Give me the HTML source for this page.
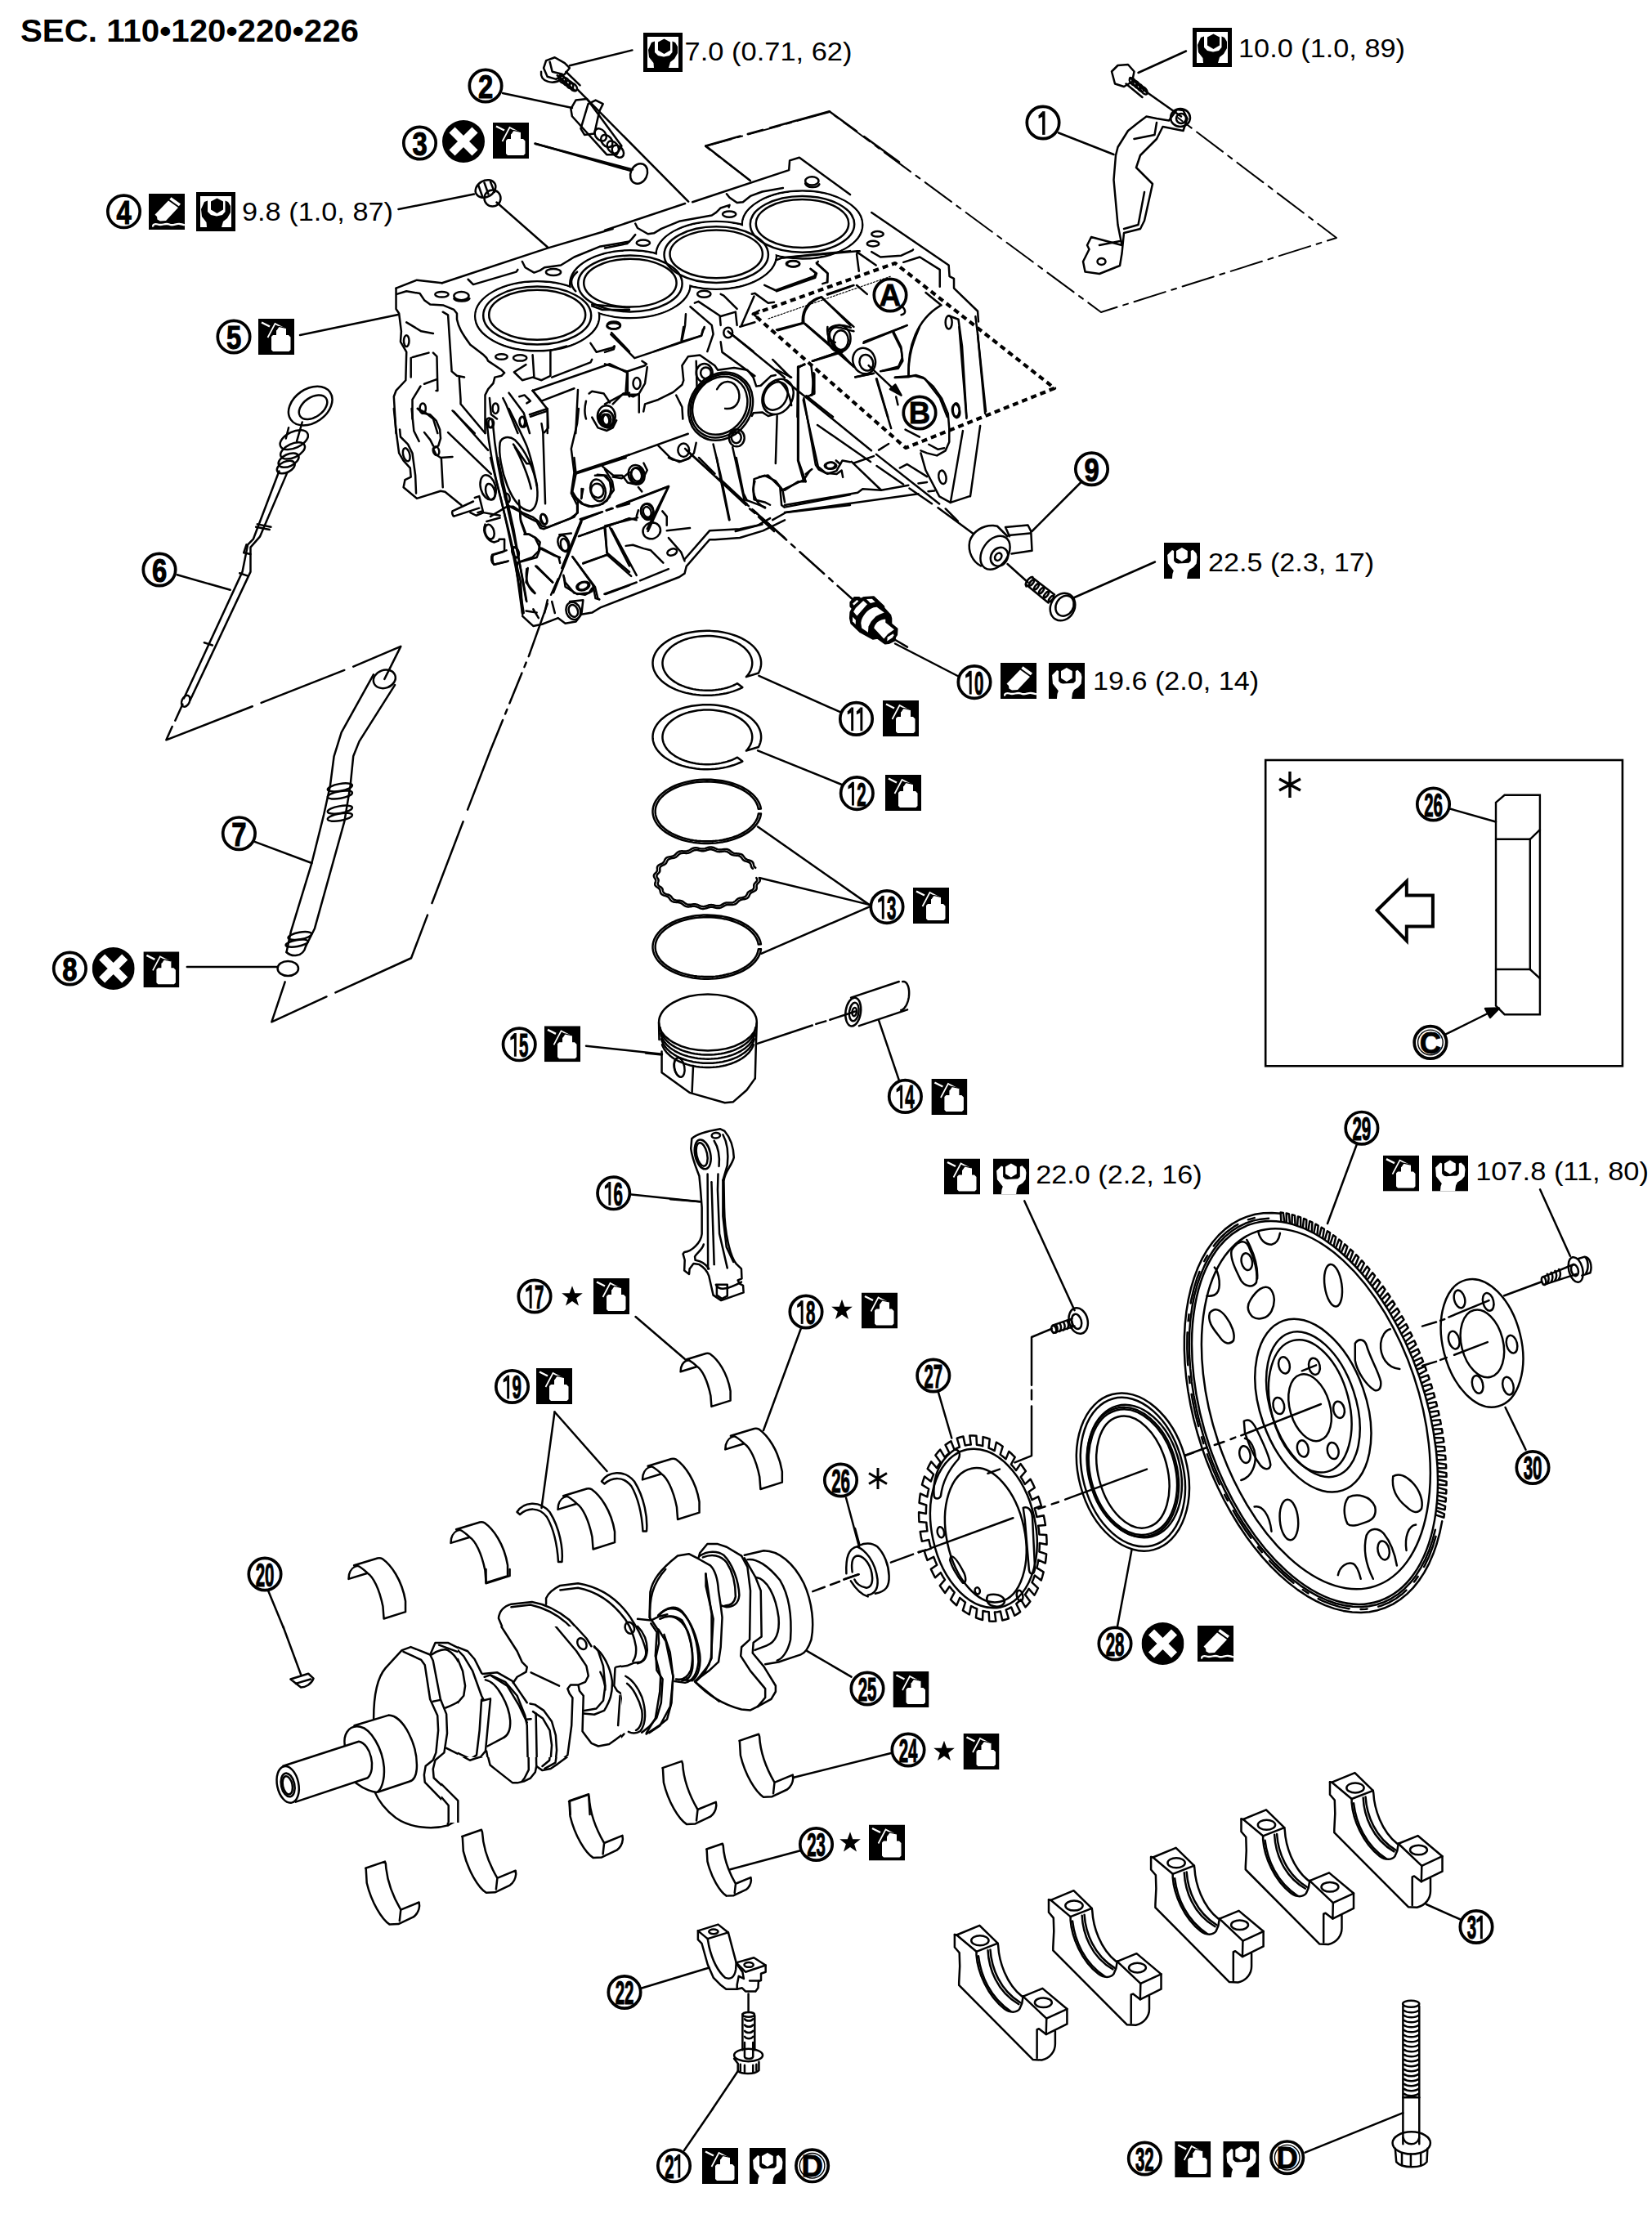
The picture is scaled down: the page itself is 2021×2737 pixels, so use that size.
<!DOCTYPE html>
<html><head><meta charset="utf-8"><style>
html,body{margin:0;padding:0;background:#fff;}
svg{display:block;}
.t *{vector-effect:non-scaling-stroke;}
</style></head><body>
<svg xmlns="http://www.w3.org/2000/svg" width="2021" height="2737" viewBox="0 0 2021 2737">
<defs>
<symbol id="oil" viewBox="0 0 44 44">
 <rect width="44" height="44" fill="#000"/>
 <path d="M16 22 L18 20 L22 20 L22 14 L25.5 9.5 L34 11.5 L34 20 L37 20 L39.5 22.5 L39.5 38 L37.5 40 L18 40 L16 38 Z" fill="#fff"/>
 <path d="M11.5 23 L20.5 6 L32 12" fill="none" stroke="#fff" stroke-width="1.7"/>
 <path d="M4 4.5 L14 9.5" fill="none" stroke="#fff" stroke-width="2.5"/>
 <path d="M22 14 L25 9.5 L34 11.5" fill="none" stroke="#000" stroke-width="1.2"/>
</symbol>
<symbol id="tqA" viewBox="0 0 48 48">
 <rect width="48" height="48" fill="#000"/>
 <rect x="5" y="5" width="38" height="38" fill="#fff"/>
 <path d="M10 12 L14 10.5 L14 24 L18 28 L25 29.5 L32 28 L35.5 24 L35.5 10.5 L39 12 L42 17 L42 25 L38 32 L33 36 L31 43 L13 43 L12.5 37 L7 30 L6 21 Z" fill="#000"/>
 <path d="M25.5 7.5 L33 11.5 L33 21.5 L25.5 26 L18 21.5 L18 11.5 Z" fill="#000"/>
</symbol>
<symbol id="tqB" viewBox="0 0 44 44">
 <rect width="44" height="44" fill="#000"/>
 <path d="M10 9 L12.1 9.9 L12.1 22.3 L14.5 24.8 L17.2 25.6 L30.3 24.8 L32.8 22.3 L32.8 10 L35.4 8.8 L39.5 13 L40.5 17.2 L39.7 25.6 L36 30 L31 33 L29 37 L28.1 44 L9.9 44 L10.5 38 L11.8 34.3 L4.9 25.6 L4.1 15 Z" fill="#fff"/>
 <path d="M21.9 6 L28.8 10 L28.8 18.7 L21.9 23 L15 18.7 L15 10 Z" fill="#fff"/>
</symbol>
<symbol id="seal" viewBox="0 0 44 44">
 <rect width="44" height="44" fill="#000"/>
 <path d="M24 8.5 L36 17 L21 33 L14 33.5 L10.5 31.5 L10 28 L7.5 25.5 L11 22 Z" fill="#fff"/>
 <path d="M27.5 4.3 L39 12.5 L36.8 15.3 L25.3 7 Z" fill="#fff"/>
 <path d="M5.5 40.5 C4 37.5 8 36.5 11 37.5 C16 39.5 20 35.5 25 37.5 C30 40 33 36 38 37 C41 37.5 43 38 44 38.5" fill="none" stroke="#fff" stroke-width="2.3"/>
</symbol>
<symbol id="xc" viewBox="0 0 52 52">
 <circle cx="26" cy="26" r="26" fill="#000"/>
 <path d="M12 12 L40 40 M40 12 L12 40" stroke="#fff" stroke-width="10"/>
</symbol>
<symbol id="star" viewBox="0 0 20 20">
 <path d="M10 0.5 L12.4 7.2 L19.5 7.3 L13.8 11.6 L15.9 18.5 L10 14.4 L4.1 18.5 L6.2 11.6 L0.5 7.3 L7.6 7.2 Z" fill="#000"/>
</symbol>
</defs>
<rect width="2021" height="2737" fill="#fff"/>
<g fill="none" stroke="#000" stroke-width="2.5" stroke-linejoin="round" stroke-linecap="round">
<g class="t" transform="translate(750,750) scale(0.27241)" ><path d="M581.3 334.4 L568.0 340.8 L554.0 346.6 L539.4 351.9 L524.2 356.5 L508.5 360.4 L492.4 363.7 L475.9 366.3 L459.2 368.3 L442.3 369.5 L425.2 370.0 L408.2 369.8 L391.2 368.9 L374.4 367.3 L357.8 364.9 L341.5 361.9 L325.6 358.3 L310.2 354.0 L295.3 349.0 L281.0 343.4 L267.5 337.3 L254.6 330.6 L242.6 323.4 L231.5 315.7 L221.3 307.6 L212.1 299.0 L203.9 290.1 L196.8 280.9 L190.8 271.4 L185.9 261.7 L182.2 251.8 L179.6 241.7 L178.3 231.6 L178.1 221.5 L179.1 211.3 L181.3 201.3 L184.7 191.3 L189.2 181.5 L194.9 171.9 L201.7 162.6 L209.5 153.6 L218.4 145.0 L228.4 136.7 L239.2 128.9 L250.9 121.5 L263.5 114.7 L276.9 108.3 L290.9 102.6 L305.6 97.5 L320.9 93.0 L336.7 89.1 L352.8 85.9 L369.4 83.4 L386.1 81.5 L403.1 80.4 L420.1 80.0 L437.1 80.3 L454.1 81.3 L470.9 83.0 L487.5 85.4 L503.7 88.5 L519.5 92.3 L534.9 96.7 L549.7 101.7 L563.9 107.4 L577.3 113.6 L590.1 120.4 L601.9 127.6 L612.9 135.4 L623.0 143.6 L632.1 152.2 L640.1 161.1 L647.1 170.4 L652.9 179.9 L657.7 189.7 L661.2 199.6 L663.6 209.7 L664.8 219.8 L664.9 229.9 L663.7 240.1 L661.3 250.1 L657.8 260.0 L653.1 269.8 L598.0 286.8 L604.6 279.2 L610.4 271.3 L615.2 263.2 L619.1 254.9 L622.0 246.5 L623.9 238.0 L624.9 229.4 L624.9 220.8 L623.8 212.2 L621.8 203.7 L618.8 195.3 L614.8 187.1 L609.9 179.0 L604.1 171.2 L597.4 163.6 L589.8 156.3 L581.4 149.4 L572.2 142.9 L562.3 136.7 L551.7 131.0 L540.5 125.8 L528.7 121.0 L516.4 116.8 L503.6 113.1 L490.5 110.0 L477.0 107.4 L463.2 105.4 L449.2 104.0 L435.2 103.2 L421.0 103.0 L406.9 103.4 L392.8 104.4 L378.9 106.0 L365.3 108.2 L351.9 111.0 L338.8 114.3 L326.2 118.2 L314.1 122.6 L302.5 127.6 L291.5 133.0 L281.1 138.8 L271.5 145.1 L262.6 151.8 L254.4 158.8 L247.2 166.2 L240.8 173.9 L235.3 181.8 L230.7 189.9 L227.0 198.3 L224.4 206.7 L222.7 215.2 L222.0 223.8 L222.3 232.4 L223.6 241.0 L225.9 249.5 L229.2 257.9 L233.4 266.1 L238.5 274.1 L244.6 281.9 L251.5 289.3 L259.3 296.5 L267.9 303.4 L277.3 309.8 L287.4 315.8 L298.1 321.4 L309.5 326.5 L321.5 331.1 L333.9 335.2 L346.8 338.8 L360.1 341.8 L373.6 344.2 L387.5 346.0 L401.5 347.3 L415.6 347.9 L429.7 347.9 L443.8 347.4 L457.8 346.2 L471.7 344.4 L485.3 342.1 L498.6 339.2 L511.5 335.7 L524.0 331.7 L536.0 327.1 L547.5 322.1 L558.3 316.5 Z" /><path d="M581.3 666.4 L568.0 672.8 L554.0 678.6 L539.4 683.9 L524.2 688.5 L508.5 692.4 L492.4 695.7 L475.9 698.3 L459.2 700.3 L442.3 701.5 L425.2 702.0 L408.2 701.8 L391.2 700.9 L374.4 699.3 L357.8 696.9 L341.5 693.9 L325.6 690.3 L310.2 686.0 L295.3 681.0 L281.0 675.4 L267.5 669.3 L254.6 662.6 L242.6 655.4 L231.5 647.7 L221.3 639.6 L212.1 631.0 L203.9 622.1 L196.8 612.9 L190.8 603.4 L185.9 593.7 L182.2 583.8 L179.6 573.7 L178.3 563.6 L178.1 553.5 L179.1 543.3 L181.3 533.3 L184.7 523.3 L189.2 513.5 L194.9 503.9 L201.7 494.6 L209.5 485.6 L218.4 477.0 L228.4 468.7 L239.2 460.9 L250.9 453.5 L263.5 446.7 L276.9 440.3 L290.9 434.6 L305.6 429.5 L320.9 425.0 L336.7 421.1 L352.8 417.9 L369.4 415.4 L386.1 413.5 L403.1 412.4 L420.1 412.0 L437.1 412.3 L454.1 413.3 L470.9 415.0 L487.5 417.4 L503.7 420.5 L519.5 424.3 L534.9 428.7 L549.7 433.7 L563.9 439.4 L577.3 445.6 L590.1 452.4 L601.9 459.6 L612.9 467.4 L623.0 475.6 L632.1 484.2 L640.1 493.1 L647.1 502.4 L652.9 511.9 L657.7 521.7 L661.2 531.6 L663.6 541.7 L664.8 551.8 L664.9 561.9 L663.7 572.1 L661.3 582.1 L657.8 592.0 L653.1 601.8 L598.0 618.8 L604.6 611.2 L610.4 603.3 L615.2 595.2 L619.1 586.9 L622.0 578.5 L623.9 570.0 L624.9 561.4 L624.9 552.8 L623.8 544.2 L621.8 535.7 L618.8 527.3 L614.8 519.1 L609.9 511.0 L604.1 503.2 L597.4 495.6 L589.8 488.3 L581.4 481.4 L572.2 474.9 L562.3 468.7 L551.7 463.0 L540.5 457.8 L528.7 453.0 L516.4 448.8 L503.6 445.1 L490.5 442.0 L477.0 439.4 L463.2 437.4 L449.2 436.0 L435.2 435.2 L421.0 435.0 L406.9 435.4 L392.8 436.4 L378.9 438.0 L365.3 440.2 L351.9 443.0 L338.8 446.3 L326.2 450.2 L314.1 454.6 L302.5 459.6 L291.5 465.0 L281.1 470.8 L271.5 477.1 L262.6 483.8 L254.4 490.8 L247.2 498.2 L240.8 505.9 L235.3 513.8 L230.7 521.9 L227.0 530.3 L224.4 538.7 L222.7 547.2 L222.0 555.8 L222.3 564.4 L223.6 573.0 L225.9 581.5 L229.2 589.9 L233.4 598.1 L238.5 606.1 L244.6 613.9 L251.5 621.3 L259.3 628.5 L267.9 635.4 L277.3 641.8 L287.4 647.8 L298.1 653.4 L309.5 658.5 L321.5 663.1 L333.9 667.2 L346.8 670.8 L360.1 673.8 L373.6 676.2 L387.5 678.0 L401.5 679.3 L415.6 679.9 L429.7 679.9 L443.8 679.4 L457.8 678.2 L471.7 676.4 L485.3 674.1 L498.6 671.2 L511.5 667.7 L524.0 663.7 L536.0 659.1 L547.5 654.1 L558.3 648.5 Z" /><path d="M664.4 901.5 L662.6 911.6 L659.6 921.5 L655.4 931.3 L650.1 940.9 L643.6 950.3 L636.1 959.3 L627.5 968.1 L617.8 976.4 L607.2 984.3 L595.6 991.8 L583.2 998.8 L570.0 1005.2 L556.1 1011.1 L541.5 1016.4 L526.3 1021.0 L510.5 1025.1 L494.4 1028.4 L477.8 1031.1 L461.0 1033.1 L444.0 1034.4 L426.9 1035.0 L409.8 1034.8 L392.7 1034.0 L375.8 1032.4 L359.0 1030.2 L342.6 1027.3 L326.6 1023.7 L311.1 1019.4 L296.1 1014.5 L281.7 1009.0 L268.0 1002.9 L255.1 996.3 L243.0 989.1 L231.8 981.5 L221.5 973.4 L212.3 964.9 L204.0 956.0 L196.8 946.9 L190.8 937.4 L185.9 927.7 L182.1 917.9 L179.6 907.9 L178.2 897.8 L178.1 887.7 L179.1 877.6 L181.4 867.6 L184.8 857.7 L189.5 848.0 L195.2 838.5 L202.1 829.2 L210.1 820.3 L219.1 811.7 L229.2 803.5 L240.2 795.7 L252.0 788.5 L264.8 781.7 L278.3 775.5 L292.5 769.8 L307.3 764.8 L322.7 760.3 L338.6 756.6 L354.9 753.5 L371.6 751.0 L388.5 749.3 L405.5 748.3 L422.7 748.0 L439.8 748.4 L456.8 749.5 L473.7 751.3 L490.3 753.8 L506.6 757.0 L522.4 760.9 L537.8 765.4 L552.5 770.5 L566.6 776.3 L580.0 782.6 L592.6 789.4 L604.4 796.8 L615.3 804.6 L625.2 812.8 L634.0 821.5 L641.9 830.5 L648.6 839.8 L654.2 849.3 L658.7 859.1 L662.0 869.0 L664.1 879.0 L652.6 879.8 L650.6 870.5 L647.5 861.2 L643.2 852.1 L637.9 843.2 L631.5 834.5 L624.0 826.1 L615.5 818.0 L606.1 810.3 L595.8 803.0 L584.6 796.2 L572.5 789.8 L559.8 783.9 L546.3 778.6 L532.3 773.8 L517.6 769.5 L502.6 765.9 L487.1 763.0 L471.2 760.6 L455.2 758.9 L438.9 757.9 L422.6 757.5 L406.3 757.8 L390.0 758.7 L373.9 760.3 L358.1 762.6 L342.5 765.5 L327.4 769.0 L312.7 773.1 L298.6 777.9 L285.0 783.1 L272.2 789.0 L260.0 795.3 L248.7 802.1 L238.3 809.3 L228.7 817.0 L220.1 825.0 L212.5 833.3 L205.9 842.0 L200.4 850.9 L196.0 859.9 L192.7 869.2 L190.6 878.5 L189.6 888.0 L189.7 897.4 L191.0 906.8 L193.4 916.1 L197.0 925.3 L201.7 934.4 L207.5 943.2 L214.3 951.8 L222.1 960.0 L231.0 968.0 L240.8 975.5 L251.4 982.7 L263.0 989.3 L275.3 995.5 L288.3 1001.2 L302.0 1006.4 L316.3 1010.9 L331.1 1014.9 L346.4 1018.3 L362.0 1021.0 L377.9 1023.1 L394.1 1024.6 L410.3 1025.3 L426.7 1025.5 L443.0 1024.9 L459.2 1023.7 L475.2 1021.9 L490.9 1019.4 L506.3 1016.2 L521.3 1012.5 L535.8 1008.1 L549.7 1003.2 L563.0 997.7 L575.6 991.7 L587.4 985.2 L598.4 978.2 L608.5 970.8 L617.7 963.0 L625.9 954.8 L633.2 946.4 L639.3 937.6 L644.4 928.7 L648.4 919.5 L651.2 910.2 L652.9 900.8 Z" /><path d="M664.4 1510.0 L662.6 1520.1 L659.6 1530.0 L655.4 1539.8 L650.1 1549.4 L643.6 1558.8 L636.1 1567.8 L627.5 1576.6 L617.8 1584.9 L607.2 1592.8 L595.6 1600.3 L583.2 1607.3 L570.0 1613.7 L556.1 1619.6 L541.5 1624.9 L526.3 1629.5 L510.5 1633.6 L494.4 1636.9 L477.8 1639.6 L461.0 1641.6 L444.0 1642.9 L426.9 1643.5 L409.8 1643.3 L392.7 1642.5 L375.8 1640.9 L359.0 1638.7 L342.6 1635.8 L326.6 1632.2 L311.1 1627.9 L296.1 1623.0 L281.7 1617.5 L268.0 1611.4 L255.1 1604.8 L243.0 1597.6 L231.8 1590.0 L221.5 1581.9 L212.3 1573.4 L204.0 1564.5 L196.8 1555.4 L190.8 1545.9 L185.9 1536.2 L182.1 1526.4 L179.6 1516.4 L178.2 1506.3 L178.1 1496.2 L179.1 1486.1 L181.4 1476.1 L184.8 1466.2 L189.5 1456.5 L195.2 1447.0 L202.1 1437.7 L210.1 1428.8 L219.1 1420.2 L229.2 1412.0 L240.2 1404.2 L252.0 1397.0 L264.8 1390.2 L278.3 1384.0 L292.5 1378.3 L307.3 1373.3 L322.7 1368.8 L338.6 1365.1 L354.9 1362.0 L371.6 1359.5 L388.5 1357.8 L405.5 1356.8 L422.7 1356.5 L439.8 1356.9 L456.8 1358.0 L473.7 1359.8 L490.3 1362.3 L506.6 1365.5 L522.4 1369.4 L537.8 1373.9 L552.5 1379.0 L566.6 1384.8 L580.0 1391.1 L592.6 1397.9 L604.4 1405.3 L615.3 1413.1 L625.2 1421.3 L634.0 1430.0 L641.9 1439.0 L648.6 1448.3 L654.2 1457.8 L658.7 1467.6 L662.0 1477.5 L664.1 1487.5 L652.6 1488.3 L650.6 1479.0 L647.5 1469.7 L643.2 1460.6 L637.9 1451.7 L631.5 1443.0 L624.0 1434.6 L615.5 1426.5 L606.1 1418.8 L595.8 1411.5 L584.6 1404.7 L572.5 1398.3 L559.8 1392.4 L546.3 1387.1 L532.3 1382.3 L517.6 1378.0 L502.6 1374.4 L487.1 1371.5 L471.2 1369.1 L455.2 1367.4 L438.9 1366.4 L422.6 1366.0 L406.3 1366.3 L390.0 1367.2 L373.9 1368.8 L358.1 1371.1 L342.5 1374.0 L327.4 1377.5 L312.7 1381.6 L298.6 1386.4 L285.0 1391.6 L272.2 1397.5 L260.0 1403.8 L248.7 1410.6 L238.3 1417.8 L228.7 1425.5 L220.1 1433.5 L212.5 1441.8 L205.9 1450.5 L200.4 1459.4 L196.0 1468.4 L192.7 1477.7 L190.6 1487.0 L189.6 1496.5 L189.7 1505.9 L191.0 1515.3 L193.4 1524.6 L197.0 1533.8 L201.7 1542.9 L207.5 1551.7 L214.3 1560.3 L222.1 1568.5 L231.0 1576.5 L240.8 1584.0 L251.4 1591.2 L263.0 1597.8 L275.3 1604.0 L288.3 1609.7 L302.0 1614.9 L316.3 1619.4 L331.1 1623.4 L346.4 1626.8 L362.0 1629.5 L377.9 1631.6 L394.1 1633.1 L410.3 1633.8 L426.7 1634.0 L443.0 1633.4 L459.2 1632.2 L475.2 1630.4 L490.9 1627.9 L506.3 1624.7 L521.3 1621.0 L535.8 1616.6 L549.7 1611.7 L563.0 1606.2 L575.6 1600.2 L587.4 1593.7 L598.4 1586.7 L608.5 1579.3 L617.7 1571.5 L625.9 1563.3 L633.2 1554.9 L639.3 1546.1 L644.4 1537.2 L648.4 1528.0 L651.2 1518.7 L652.9 1509.3 Z" /><path d="M656.5 1190.0 L657.9 1192.4 L659.1 1194.8 L659.8 1197.2 L660.1 1199.7 L659.8 1202.1 L658.9 1204.5 L657.4 1206.8 L655.6 1209.0 L653.6 1211.1 L651.5 1213.2 L649.5 1215.3 L647.8 1217.3 L646.4 1219.5 L645.5 1221.7 L645.0 1224.0 L644.8 1226.5 L644.8 1229.1 L645.0 1231.7 L645.1 1234.4 L644.9 1237.1 L644.3 1239.6 L643.3 1242.1 L641.7 1244.3 L639.5 1246.3 L636.9 1248.2 L634.0 1249.8 L630.9 1251.3 L627.7 1252.7 L624.7 1254.2 L621.8 1255.7 L619.4 1257.5 L617.3 1259.4 L615.5 1261.6 L614.1 1264.0 L612.8 1266.6 L611.6 1269.4 L610.3 1272.1 L608.8 1274.7 L607.0 1277.2 L604.7 1279.3 L602.0 1281.2 L598.9 1282.7 L595.4 1283.8 L591.6 1284.7 L587.7 1285.5 L583.7 1286.1 L579.9 1286.8 L576.3 1287.7 L572.9 1288.9 L569.9 1290.4 L567.1 1292.2 L564.5 1294.3 L562.1 1296.7 L559.6 1299.2 L557.1 1301.7 L554.4 1304.1 L551.5 1306.2 L548.2 1307.9 L544.7 1309.1 L540.8 1310.0 L536.7 1310.4 L532.5 1310.4 L528.2 1310.3 L523.9 1310.1 L519.7 1310.0 L515.6 1310.1 L511.7 1310.6 L508.0 1311.5 L504.4 1312.8 L500.9 1314.4 L497.5 1316.3 L494.1 1318.4 L490.6 1320.4 L487.0 1322.3 L483.3 1323.8 L479.4 1324.9 L475.3 1325.4 L471.1 1325.5 L466.9 1325.1 L462.6 1324.3 L458.3 1323.3 L454.0 1322.3 L449.8 1321.4 L445.7 1320.8 L441.6 1320.5 L437.6 1320.7 L433.6 1321.3 L429.6 1322.3 L425.6 1323.6 L421.5 1325.0 L417.4 1326.4 L413.2 1327.5 L409.0 1328.3 L404.8 1328.6 L400.7 1328.5 L396.6 1327.7 L392.5 1326.6 L388.6 1325.1 L384.7 1323.3 L380.9 1321.6 L377.2 1320.0 L373.4 1318.6 L369.6 1317.7 L365.7 1317.1 L361.6 1317.0 L357.5 1317.3 L353.2 1317.8 L348.9 1318.4 L344.5 1319.0 L340.2 1319.3 L336.0 1319.3 L331.9 1318.9 L328.1 1317.9 L324.4 1316.5 L321.0 1314.7 L317.8 1312.6 L314.8 1310.3 L311.9 1308.0 L308.9 1305.8 L305.8 1303.9 L302.6 1302.3 L299.2 1301.1 L295.5 1300.3 L291.6 1299.8 L287.5 1299.5 L283.4 1299.2 L279.2 1298.9 L275.1 1298.4 L271.3 1297.6 L267.8 1296.5 L264.6 1294.9 L261.8 1292.9 L259.4 1290.6 L257.3 1288.1 L255.3 1285.5 L253.5 1282.8 L251.6 1280.3 L249.6 1278.0 L247.3 1276.0 L244.7 1274.2 L241.7 1272.8 L238.5 1271.5 L235.0 1270.4 L231.4 1269.4 L227.8 1268.2 L224.4 1266.9 L221.3 1265.4 L218.7 1263.7 L216.5 1261.6 L214.8 1259.3 L213.6 1256.7 L212.7 1254.0 L212.1 1251.3 L211.6 1248.6 L211.0 1246.0 L210.2 1243.5 L209.0 1241.2 L207.5 1239.1 L205.5 1237.1 L203.2 1235.3 L200.7 1233.5 L198.0 1231.7 L195.4 1229.9 L193.0 1227.9 L191.0 1225.8 L189.4 1223.6 L188.5 1221.3 L188.1 1218.8 L188.1 1216.3 L188.6 1213.7 L189.4 1211.1 L190.2 1208.6 L191.0 1206.1 L191.4 1203.7 L191.5 1201.4 L191.2 1199.1 L190.5 1196.9 L189.4 1194.6 L188.0 1192.3 L186.5 1190.0 L185.1 1187.6 L183.9 1185.2 L183.2 1182.8 L182.9 1180.3 L183.2 1177.9 L184.1 1175.5 L185.6 1173.2 L187.4 1171.0 L189.4 1168.9 L191.5 1166.8 L193.5 1164.7 L195.2 1162.7 L196.6 1160.5 L197.5 1158.3 L198.0 1156.0 L198.2 1153.5 L198.2 1150.9 L198.0 1148.3 L197.9 1145.6 L198.1 1142.9 L198.7 1140.4 L199.7 1137.9 L201.3 1135.7 L203.5 1133.7 L206.1 1131.8 L209.0 1130.2 L212.1 1128.7 L215.3 1127.3 L218.3 1125.8 L221.2 1124.3 L223.6 1122.5 L225.7 1120.6 L227.5 1118.4 L228.9 1116.0 L230.2 1113.4 L231.4 1110.6 L232.7 1107.9 L234.2 1105.3 L236.0 1102.8 L238.3 1100.7 L241.0 1098.8 L244.1 1097.3 L247.6 1096.2 L251.4 1095.3 L255.3 1094.5 L259.3 1093.9 L263.1 1093.2 L266.7 1092.3 L270.1 1091.1 L273.1 1089.6 L275.9 1087.8 L278.5 1085.7 L280.9 1083.3 L283.4 1080.8 L285.9 1078.3 L288.6 1075.9 L291.5 1073.8 L294.8 1072.1 L298.3 1070.9 L302.2 1070.0 L306.3 1069.6 L310.5 1069.6 L314.8 1069.7 L319.1 1069.9 L323.3 1070.0 L327.4 1069.9 L331.3 1069.4 L335.0 1068.5 L338.6 1067.2 L342.1 1065.6 L345.5 1063.7 L348.9 1061.6 L352.4 1059.6 L356.0 1057.7 L359.7 1056.2 L363.6 1055.1 L367.7 1054.6 L371.9 1054.5 L376.1 1054.9 L380.4 1055.7 L384.7 1056.7 L389.0 1057.7 L393.2 1058.6 L397.3 1059.2 L401.4 1059.5 L405.4 1059.3 L409.4 1058.7 L413.4 1057.7 L417.4 1056.4 L421.5 1055.0 L425.6 1053.6 L429.8 1052.5 L434.0 1051.7 L438.2 1051.4 L442.3 1051.5 L446.4 1052.3 L450.5 1053.4 L454.4 1054.9 L458.3 1056.7 L462.1 1058.4 L465.8 1060.0 L469.6 1061.4 L473.4 1062.3 L477.3 1062.9 L481.4 1063.0 L485.5 1062.7 L489.8 1062.2 L494.1 1061.6 L498.5 1061.0 L502.8 1060.7 L507.0 1060.7 L511.1 1061.1 L514.9 1062.1 L518.6 1063.5 L522.0 1065.3 L525.2 1067.4 L528.2 1069.7 L531.1 1072.0 L534.1 1074.2 L537.2 1076.1 L540.4 1077.7 L543.8 1078.9 L547.5 1079.7 L551.4 1080.2 L555.5 1080.5 L559.6 1080.8 L563.8 1081.1 L567.9 1081.6 L571.7 1082.4 L575.2 1083.5 L578.4 1085.1 L581.2 1087.1 L583.6 1089.4 L585.7 1091.9 L587.7 1094.5 L589.5 1097.2 L591.4 1099.7 L593.4 1102.0 L595.7 1104.0 L598.3 1105.8 L601.3 1107.2 L604.5 1108.5 L608.0 1109.6 L611.6 1110.6 L615.2 1111.8 L618.6 1113.1 L621.7 1114.6 L624.3 1116.3 L626.5 1118.4 L628.2 1120.7 L629.4 1123.3 L630.3 1126.0 L630.9 1128.7 L631.4 1131.4 L632.0 1134.0 L632.8 1136.5 L634.0 1138.8 L635.5 1140.9 L637.5 1142.9 L639.8 1144.7" /><path d="M627.7 1148.1 L625.5 1146.4 L623.7 1144.6 L622.2 1142.6 L621.1 1140.5 L620.4 1138.2 L619.8 1135.8 L619.3 1133.3 L618.7 1130.7 L617.9 1128.2 L616.8 1125.9 L615.2 1123.7 L613.1 1121.8 L610.6 1120.2 L607.7 1118.8 L604.5 1117.6 L601.1 1116.5 L597.7 1115.5 L594.4 1114.5 L591.3 1113.4 L588.5 1112.0 L586.1 1110.4 L583.9 1108.5 L582.0 1106.4 L580.2 1104.1 L578.5 1101.6 L576.7 1099.2 L574.7 1096.8 L572.4 1094.7 L569.7 1092.9 L566.7 1091.4 L563.4 1090.3 L559.8 1089.6 L555.9 1089.1 L552.0 1088.9 L548.1 1088.7 L544.2 1088.4 L540.5 1087.9 L537.1 1087.1 L533.8 1086.0 L530.8 1084.6 L527.9 1082.8 L525.1 1080.8 L522.3 1078.6 L519.4 1076.5 L516.4 1074.5 L513.2 1072.8 L509.8 1071.5 L506.1 1070.7 L502.3 1070.3 L498.3 1070.3 L494.2 1070.6 L490.1 1071.1 L486.0 1071.7 L482.0 1072.2 L478.1 1072.4 L474.3 1072.3 L470.6 1071.8 L466.9 1070.9 L463.4 1069.7 L459.8 1068.2 L456.2 1066.5 L452.6 1064.9 L448.9 1063.5 L445.1 1062.5 L441.2 1061.8 L437.3 1061.6 L433.3 1061.9 L429.3 1062.7 L425.4 1063.7 L421.5 1065.0 L417.6 1066.3 L413.8 1067.5 L410.1 1068.4 L406.3 1069.0 L402.5 1069.2 L398.7 1068.9 L394.8 1068.3 L390.8 1067.5 L386.8 1066.5 L382.7 1065.6 L378.7 1064.9 L374.6 1064.6 L370.7 1064.6 L366.8 1065.1 L363.1 1066.1 L359.6 1067.5 L356.2 1069.2 L352.9 1071.1 L349.7 1073.0 L346.5 1074.8 L343.2 1076.3 L339.8 1077.5 L336.3 1078.3 L332.6 1078.8 L328.8 1078.9 L324.8 1078.8 L320.7 1078.6 L316.6 1078.5 L312.6 1078.6 L308.8 1078.9 L305.1 1079.7 L301.8 1080.9 L298.7 1082.4 L295.9 1084.4 L293.4 1086.6 L291.0 1088.9 L288.7 1091.2 L286.4 1093.4 L284.0 1095.4 L281.3 1097.1 L278.4 1098.4 L275.3 1099.5 L271.8 1100.3 L268.2 1101.0 L264.5 1101.6 L260.8 1102.3 L257.3 1103.1 L254.0 1104.2 L251.0 1105.6 L248.4 1107.3 L246.3 1109.3 L244.5 1111.6 L243.1 1114.0 L241.9 1116.5 L240.8 1119.0 L239.6 1121.4 L238.2 1123.7 L236.6 1125.7 L234.6 1127.5 L232.2 1129.1 L229.6 1130.6 L226.7 1131.9 L223.7 1133.3 L220.7 1134.6 L218.0 1136.2 L215.5 1137.8 L213.5 1139.7 L212.0 1141.8 L211.0 1144.0 L210.5 1146.4 L210.3 1148.9 L210.4 1151.4 L210.5 1153.8 L210.6 1156.2 L210.4 1158.5 L209.9 1160.7 L209.0 1162.7 L207.7 1164.7 L206.1 1166.6 L204.2 1168.5 L202.2 1170.4 L200.3 1172.4 L198.6 1174.5 L197.3 1176.6 L196.4 1178.8 L196.1 1181.0 L196.3 1183.3 L197.1 1185.6 L198.2 1187.8 L199.5 1190.0 L200.9 1192.2 L202.2 1194.3 L203.3 1196.4 L204.0 1198.5 L204.3 1200.6 L204.2 1202.7 L203.7 1204.9 L203.0 1207.2 L202.2 1209.6 L201.5 1211.9 L201.1 1214.3 L201.0 1216.7 L201.4 1218.9 L202.3 1221.1 L203.7 1223.2 L205.6 1225.1 L207.9 1226.9 L210.4 1228.6 L212.9 1230.3 L215.3 1231.9 L217.5 1233.6 L219.3 1235.4 L220.8 1237.4 L221.9 1239.5 L222.6 1241.8 L223.2 1244.2 L223.7 1246.7 L224.3 1249.3 L225.1 1251.8 L226.2 1254.1 L227.8 1256.3 L229.9 1258.2 L232.4 1259.8 L235.3 1261.2 L238.5 1262.4 L241.9 1263.5 L245.3 1264.5 L248.6 1265.5 L251.7 1266.6 L254.5 1268.0 L256.9 1269.6 L259.1 1271.5 L261.0 1273.6 L262.8 1275.9 L264.5 1278.4 L266.3 1280.8 L268.3 1283.2 L270.6 1285.3 L273.3 1287.1 L276.3 1288.6 L279.6 1289.7 L283.2 1290.4 L287.1 1290.9 L291.0 1291.1 L294.9 1291.3 L298.8 1291.6 L302.5 1292.1 L305.9 1292.9 L309.2 1294.0 L312.2 1295.4 L315.1 1297.2 L317.9 1299.2 L320.7 1301.4 L323.6 1303.5 L326.6 1305.5 L329.8 1307.2 L333.2 1308.5 L336.9 1309.3 L340.7 1309.7 L344.7 1309.7 L348.8 1309.4 L352.9 1308.9 L357.0 1308.3 L361.0 1307.8 L364.9 1307.6 L368.7 1307.7 L372.4 1308.2 L376.1 1309.1 L379.6 1310.3 L383.2 1311.8 L386.8 1313.5 L390.4 1315.1 L394.1 1316.5 L397.9 1317.5 L401.8 1318.2 L405.7 1318.4 L409.7 1318.1 L413.7 1317.3 L417.6 1316.3 L421.5 1315.0 L425.4 1313.7 L429.2 1312.5 L432.9 1311.6 L436.7 1311.0 L440.5 1310.8 L444.3 1311.1 L448.2 1311.7 L452.2 1312.5 L456.2 1313.5 L460.3 1314.4 L464.3 1315.1 L468.4 1315.4 L472.3 1315.4 L476.2 1314.9 L479.9 1313.9 L483.4 1312.5 L486.8 1310.8 L490.1 1308.9 L493.3 1307.0 L496.5 1305.2 L499.8 1303.7 L503.2 1302.5 L506.7 1301.7 L510.4 1301.2 L514.2 1301.1 L518.2 1301.2 L522.3 1301.4 L526.4 1301.5 L530.4 1301.4 L534.2 1301.1 L537.9 1300.3 L541.2 1299.1 L544.3 1297.6 L547.1 1295.6 L549.6 1293.4 L552.0 1291.1 L554.3 1288.8 L556.6 1286.6 L559.0 1284.6 L561.7 1282.9 L564.6 1281.6 L567.7 1280.5 L571.2 1279.7 L574.8 1279.0 L578.5 1278.4 L582.2 1277.7 L585.7 1276.9 L589.0 1275.8 L592.0 1274.4 L594.6 1272.7 L596.7 1270.7 L598.5 1268.4 L599.9 1266.0 L601.1 1263.5 L602.2 1261.0 L603.4 1258.6 L604.8 1256.3 L606.4 1254.3 L608.4 1252.5 L610.8 1250.9 L613.4 1249.4 L616.3 1248.1 L619.3 1246.7 L622.3 1245.4 L625.0 1243.8 L627.5 1242.2 L629.5 1240.3 L631.0 1238.2 L632.0 1236.0 L632.5 1233.6 L632.7 1231.1 L632.6 1228.6 L632.5 1226.2 L632.4 1223.8 L632.6 1221.5 L633.1 1219.3 L634.0 1217.3 L635.3 1215.3 L636.9 1213.4 L638.8 1211.5 L640.8 1209.6 L642.7 1207.6 L644.4 1205.5 L645.7 1203.4 L646.6 1201.2 L646.9 1199.0 L646.7 1196.7 L645.9 1194.4 L644.8 1192.2 L643.5 1190.0" /><path d="M655.0 282.0 L1020.0 445.0" /><path d="M650.0 618.0 L1025.0 770.0" /><path d="M650.0 960.0 L1150.0 1310.0" /><path d="M660.0 1190.0 L1150.0 1310.0" /><path d="M665.0 1530.0 L1150.0 1320.0" /></g>
<g class="t" transform="translate(790,1200) scale(0.20581)" ><ellipse cx="369" cy="247.5" rx="291" ry="167.5" /><path d="M78 250 L80 350" /><path d="M660 250 L655 390 L650 580" /><path d="M86.2 278.3 L87.6 290.0 L90.3 301.6 L94.4 313.0 L99.9 324.3 L106.6 335.2 L114.6 345.9 L123.9 356.2 L134.4 366.2 L146.0 375.6 L158.7 384.6 L172.4 393.0 L187.1 400.8 L202.7 408.0 L219.0 414.5 L236.1 420.4 L253.9 425.5 L272.2 429.9 L291.0 433.5 L310.2 436.3 L329.6 438.4 L349.3 439.6 L369.0 440.0 L388.7 439.6 L408.4 438.4 L427.8 436.3 L447.0 433.5 L465.8 429.9 L484.1 425.5 L501.9 420.4 L519.0 414.5 L535.3 408.0 L550.9 400.8 L565.6 393.0 L579.3 384.6 L592.0 375.6 L603.6 366.2 L614.1 356.2 L623.4 345.9 L631.4 335.2 L638.1 324.3 L643.6 313.0 L647.7 301.6 L650.4 290.0 L651.8 278.3" /><path d="M89.1 312.1 L91.5 323.8 L95.3 335.5 L100.5 346.9 L107.0 358.0 L114.8 368.9 L123.9 379.4 L134.2 389.5 L145.7 399.2 L158.3 408.3 L172.0 416.9 L186.6 424.9 L202.1 432.3 L218.5 439.0 L235.6 444.9 L253.4 450.2 L271.8 454.7 L290.6 458.4 L309.9 461.3 L329.4 463.3 L349.2 464.6 L369.0 465.0 L388.8 464.6 L408.6 463.3 L428.1 461.3 L447.4 458.4 L466.2 454.7 L484.6 450.2 L502.4 444.9 L519.5 439.0 L535.9 432.3 L551.4 424.9 L566.0 416.9 L579.7 408.3 L592.3 399.2 L603.8 389.5 L614.1 379.4 L623.2 368.9 L631.0 358.0 L637.5 346.9 L642.7 335.5 L646.5 323.8 L648.9 312.1" /><path d="M92.7 345.8 L96.1 357.3 L100.8 368.7 L106.8 379.8 L114.1 390.6 L122.7 401.1 L132.4 411.3 L143.3 421.0 L155.3 430.2 L168.3 438.9 L182.3 447.0 L197.2 454.5 L213.0 461.4 L229.5 467.6 L246.7 473.0 L264.5 477.8 L282.8 481.8 L301.5 485.0 L320.6 487.5 L339.8 489.1 L359.3 489.9 L378.7 489.9 L398.2 489.1 L417.4 487.5 L436.5 485.0 L455.2 481.8 L473.5 477.8 L491.3 473.0 L508.5 467.6 L525.0 461.4 L540.8 454.5 L555.7 447.0 L569.7 438.9 L582.7 430.2 L594.7 421.0 L605.6 411.3 L615.3 401.1 L623.9 390.6 L631.2 379.8 L637.2 368.7 L641.9 357.3 L645.3 345.8" /><path d="M97.1 379.5 L101.5 391.0 L107.3 402.3 L114.3 413.4 L122.6 424.1 L132.2 434.4 L143.0 444.3 L154.8 453.7 L167.8 462.6 L181.7 470.9 L196.6 478.6 L212.4 485.6 L228.9 492.0 L246.1 497.6 L264.0 502.5 L282.3 506.6 L301.1 509.9 L320.3 512.4 L339.7 514.1 L359.2 514.9 L378.8 514.9 L398.3 514.1 L417.7 512.4 L436.9 509.9 L455.7 506.6 L474.0 502.5 L491.9 497.6 L509.1 492.0 L525.6 485.6 L541.4 478.6 L556.3 470.9 L570.2 462.6 L583.2 453.7 L595.0 444.3 L605.8 434.4 L615.4 424.1 L623.7 413.4 L630.7 402.3 L636.5 391.0 L640.9 379.5" /><path d="M95 420 L95 545 L260 665 L470 725 L520 720 L600 650 L650 580" /><path d="M282 505 L275 660" /><ellipse cx="200" cy="515" rx="30" ry="58" transform="rotate(-10 200 515)" /><path d="M175 470 C160 500 170 550 200 570" /><ellipse cx="1233" cy="185" rx="45" ry="85" transform="rotate(8 1233 185)" /><ellipse cx="1238" cy="185" rx="28" ry="55" transform="rotate(8 1238 185)" /><ellipse cx="1240" cy="185" rx="13" ry="25" transform="rotate(8 1240 185)" /><path d="M1220 100 L1505 5" /><path d="M1268 268 L1555 172" /><path d="M1526.6 5.1 L1529.6 4.7 L1532.5 4.7 L1535.4 5.1 L1538.3 5.9 L1541.0 7.1 L1543.7 8.8 L1546.2 10.8 L1548.7 13.2 L1551.0 16.0 L1553.2 19.2 L1555.2 22.7 L1557.0 26.5 L1558.7 30.6 L1560.2 35.0 L1561.6 39.7 L1562.7 44.7 L1563.6 49.8 L1564.3 55.2 L1564.9 60.7 L1565.2 66.4 L1565.3 72.1 L1565.2 78.0 L1564.9 83.9 L1564.3 89.9 L1563.6 95.8 L1562.7 101.8 L1561.5 107.6 L1560.2 113.4 L1558.7 119.1 L1557.0 124.6 L1555.1 130.0 L1553.1 135.1 L1550.9 140.1 L1548.6 144.8 L1546.2 149.2 L1543.6 153.4 L1540.9 157.2 L1538.2 160.7 L1535.3 163.9 L1532.4 166.7 L1529.5 169.1 L1526.5 171.2 L1523.5 172.8 L1520.4 174.0 L1517.4 174.9" /><path d="M660 375 L990 265 M1012 257 L1070 240 M1095 232 L1245 182" /><path d="M1385 235 L1505 590" /><path d="M0 430 L95 440" /></g>
<g class="t" transform="translate(820,1370) scale(0.10733)" ><path d="M245 215 C300 165 420 130 570 105 L620 130 C680 200 720 300 725 430 C700 530 620 590 610 700 L615 1000 C620 1300 680 1550 750 1640 L810 1700 L815 1810 L770 1830 L790 1870 L830 1890 L835 1970 L580 2060 L490 2000 L440 1780 C420 1720 380 1680 330 1650 L265 1640 L220 1700 L215 1760 L160 1720 L165 1600 L145 1530 L160 1510 C250 1500 350 1400 360 1300 L360 1000 L345 800 L330 640 C300 560 250 450 235 330 Z" /><ellipse cx="370" cy="395" rx="88" ry="170" transform="rotate(-12 370 395)" /><ellipse cx="360" cy="395" rx="60" ry="135" transform="rotate(-12 360 395)" /><ellipse cx="520" cy="180" rx="48" ry="30" transform="rotate(-5 520 180)" /><path d="M425 620 L430 1700" /><path d="M470 710 L500 1650" /><path d="M545 620 L540 800 L560 1300 L650 1690" /><path d="M600 690 L600 1100 L640 1450 L720 1620" /><path d="M500 240 C550 320 565 420 555 530" /><path d="M600 170 C650 260 665 380 650 520 L600 690" /><path d="M380 1420 C370 1480 300 1520 280 1560 L285 1600 C350 1610 410 1650 440 1700" /><path d="M530 1880 L530 2000 L590 2040 L650 2010 L650 1880 Z" /><path d="M520 1880 C560 1950 640 1940 810 1850" /><path d="M0 905 L345 935" /></g>
<path class="" d="M5.8 7.7 L31 0 C33 -0.3 35 0 36 0.5 C45.5 7.3 57.1 22.8 61 46 L61 57.6 L37.8 64.9 L36.8 51.8 C32.9 32.4 26.2 19.9 20.3 16 C17 13 13 9 9.7 8.2 M20.3 16 L0 22.3 L0.5 17.4 C1.9 12.1 5.8 8.7 9.7 8.2 C7.5 7.8 6.5 7.7 5.8 7.7" transform="translate(832.6,1656) scale(1.0)" vector-effect="non-scaling-stroke"/><path class="" d="M5.8 7.7 L31 0 C33 -0.3 35 0 36 0.5 C45.5 7.3 57.1 22.8 61 46 L61 57.6 L37.8 64.9 L36.8 51.8 C32.9 32.4 26.2 19.9 20.3 16 C17 13 13 9 9.7 8.2 M20.3 16 L0 22.3 L0.5 17.4 C1.9 12.1 5.8 8.7 9.7 8.2 C7.5 7.8 6.5 7.7 5.8 7.7" transform="translate(887.3,1748) scale(1.14)" vector-effect="non-scaling-stroke"/><path class="" d="M5.8 7.7 L31 0 C33 -0.3 35 0 36 0.5 C45.5 7.3 57.1 22.8 61 46 L61 57.6 L37.8 64.9 L36.8 51.8 C32.9 32.4 26.2 19.9 20.3 16 C17 13 13 9 9.7 8.2 M20.3 16 L0 22.3 L0.5 17.4 C1.9 12.1 5.8 8.7 9.7 8.2 C7.5 7.8 6.5 7.7 5.8 7.7" transform="translate(786,1785) scale(1.14)" vector-effect="non-scaling-stroke"/><path class="" d="M5.8 7.7 L31 0 C33 -0.3 35 0 36 0.5 C45.5 7.3 57.1 22.8 61 46 L61 57.6 L37.8 64.9 L36.8 51.8 C32.9 32.4 26.2 19.9 20.3 16 C17 13 13 9 9.7 8.2 M20.3 16 L0 22.3 L0.5 17.4 C1.9 12.1 5.8 8.7 9.7 8.2 C7.5 7.8 6.5 7.7 5.8 7.7" transform="translate(682.5,1821.5) scale(1.14)" vector-effect="non-scaling-stroke"/><path class="" d="M5.8 7.7 L31 0 C33 -0.3 35 0 36 0.5 C45.5 7.3 57.1 22.8 61 46 L61 57.6 L37.8 64.9 L36.8 51.8 C32.9 32.4 26.2 19.9 20.3 16 C17 13 13 9 9.7 8.2 M20.3 16 L0 22.3 L0.5 17.4 C1.9 12.1 5.8 8.7 9.7 8.2 C7.5 7.8 6.5 7.7 5.8 7.7" transform="translate(551.5,1862.5) scale(1.14)" vector-effect="non-scaling-stroke"/><path class="" d="M5.8 7.7 L31 0 C33 -0.3 35 0 36 0.5 C45.5 7.3 57.1 22.8 61 46 L61 57.6 L37.8 64.9 L36.8 51.8 C32.9 32.4 26.2 19.9 20.3 16 C17 13 13 9 9.7 8.2 M20.3 16 L0 22.3 L0.5 17.4 C1.9 12.1 5.8 8.7 9.7 8.2 C7.5 7.8 6.5 7.7 5.8 7.7" transform="translate(426.5,1906.5) scale(1.14)" vector-effect="non-scaling-stroke"/><path class="" d="M0 8.7 L23.7 0.5 L24.7 3.4 C25.7 21.8 32.4 41.2 43.1 59.6 L65.4 50.4 L65.9 54.7 C65.4 60.5 62.5 65.4 58.6 68.3 L40.2 77 L29.5 77.5 C19.9 71.2 7.3 50.8 1.5 26.6 L0.5 9.2 Z M43.1 59.6 L41.6 73.1" transform="translate(447.2,2277.1) scale(1.0)" vector-effect="non-scaling-stroke"/><path class="" d="M0 8.7 L23.7 0.5 L24.7 3.4 C25.7 21.8 32.4 41.2 43.1 59.6 L65.4 50.4 L65.9 54.7 C65.4 60.5 62.5 65.4 58.6 68.3 L40.2 77 L29.5 77.5 C19.9 71.2 7.3 50.8 1.5 26.6 L0.5 9.2 Z M43.1 59.6 L41.6 73.1" transform="translate(565.3,2238.3) scale(1.0)" vector-effect="non-scaling-stroke"/><path class="" d="M0 8.7 L23.7 0.5 L24.7 3.4 C25.7 21.8 32.4 41.2 43.1 59.6 L65.4 50.4 L65.9 54.7 C65.4 60.5 62.5 65.4 58.6 68.3 L40.2 77 L29.5 77.5 C19.9 71.2 7.3 50.8 1.5 26.6 L0.5 9.2 Z M43.1 59.6 L41.6 73.1" transform="translate(696,2195.4) scale(1.0)" vector-effect="non-scaling-stroke"/><path class="" d="M0 8.7 L23.7 0.5 L24.7 3.4 C25.7 21.8 32.4 41.2 43.1 59.6 L65.4 50.4 L65.9 54.7 C65.4 60.5 62.5 65.4 58.6 68.3 L40.2 77 L29.5 77.5 C19.9 71.2 7.3 50.8 1.5 26.6 L0.5 9.2 Z M43.1 59.6 L41.6 73.1" transform="translate(810.4,2154.4) scale(1.0)" vector-effect="non-scaling-stroke"/><path class="" d="M0 8.7 L23.7 0.5 L24.7 3.4 C25.7 21.8 32.4 41.2 43.1 59.6 L65.4 50.4 L65.9 54.7 C65.4 60.5 62.5 65.4 58.6 68.3 L40.2 77 L29.5 77.5 C19.9 71.2 7.3 50.8 1.5 26.6 L0.5 9.2 Z M43.1 59.6 L41.6 73.1" transform="translate(904.4,2121.2) scale(1.0)" vector-effect="non-scaling-stroke"/><path class="" d="M0 8.7 L23.7 0.5 L24.7 3.4 C25.7 21.8 32.4 41.2 43.1 59.6 L65.4 50.4 L65.9 54.7 C65.4 60.5 62.5 65.4 58.6 68.3 L40.2 77 L29.5 77.5 C19.9 71.2 7.3 50.8 1.5 26.6 L0.5 9.2 Z M43.1 59.6 L41.6 73.1" transform="translate(864.2,2255.3) scale(0.83)" vector-effect="non-scaling-stroke"/><g class="t" transform="translate(300.0,1550.0) scale(0.5)"><path d="M665 600 C680 575 720 570 745 600 C770 640 778 690 775 722 L766 722 C764 690 757 645 738 612 C718 586 690 590 672 606 Z"/></g><g class="t" transform="translate(403.5,1512.5) scale(0.5)"><path d="M665 600 C680 575 720 570 745 600 C770 640 778 690 775 722 L766 722 C764 690 757 645 738 612 C718 586 690 590 672 606 Z"/></g>
<rect x="1548.2" y="930" width="436.7" height="374.3" stroke-width="2.6" stroke-linejoin="miter"/><path d="M1830.0 981.9 L1840.6 972.8 L1883.9 972.8 L1883.9 1241.2 L1840.6 1241.2 L1830.0 1230.6 Z" stroke-width="2.4" stroke-linejoin="miter"/><path d="M1830.0 1026.8 L1871.8 1026.8 L1883.9 1015.2" stroke-width="2.4"/><path d="M1871.8 1026.8 L1871.8 1186.0" stroke-width="2.4"/><path d="M1830.0 1186.0 L1871.8 1186.0 L1883.9 1197.2" stroke-width="2.4"/><path d="M1684.7 1113.8 L1720.8 1078.3 L1720.8 1095.6 L1752.9 1095.6 L1752.9 1133.5 L1720.8 1133.5 L1720.8 1151.1 Z" stroke-width="4" stroke-linejoin="miter"/><path d="M1774.7 989.8 L1830 1005.5" /><path d="M1768.7 1265.4 L1822 1239" /><path d="M1834 1233.6 L1817 1234 L1823 1245 Z" fill="#000"/><path d="M1578 944 L1578 976 M1565 953 L1591 967 M1565 967 L1591 953" stroke-width="3.4" stroke-linecap="butt"/><path d="M1074 1796 L1074 1822 M1063 1802.5 L1085 1815.5 M1063 1815.5 L1085 1802.5" stroke-width="3" stroke-linecap="butt"/>
<g clip-path="url(#cutA)"><g class="t" transform="translate(330,1990) scale(0.1816)" ><ellipse cx="122" cy="1065" rx="72" ry="125" transform="rotate(-12 122 1065)" /><ellipse cx="122" cy="1068" rx="45" ry="80" transform="rotate(-12 122 1068)" /><ellipse cx="120" cy="1070" rx="32" ry="62" transform="rotate(-12 120 1070)" /><path d="M90 940 L600 775 C680 790 720 960 660 1020 L175 1182" /><path d="M505 800 C500 760 505 735 520 712 C540 680 570 668 610 676 C680 690 760 820 770 950 C775 1040 750 1100 725 1115 C700 1120 640 1100 580 1055" /><path d="M570 668 L800 598 C900 600 1000 800 990 960 C985 1020 960 1040 940 1045 L730 1115" /><path d="M700 620 C700 480 720 350 780 280 L890 160 L950 138 L1080 190 L1100 230 L1150 490 L1190 590 L1195 720 L1175 850 L1115 900 L1100 960 L1105 1020 L1270 1175 L1270 1300 L1200 1340 C1100 1370 950 1360 850 1290 C780 1240 730 1170 710 1120" /><path d="M900 170 L1020 225 L1045 260 L1080 490 L1130 600 L1135 700 L1120 850 L1100 900 L1050 940 L1040 1000 L1045 1050 L1200 1210 L1200 1340" /><path d="M1090 190 C1130 160 1180 150 1200 160 C1270 200 1310 300 1310 430 C1300 500 1260 520 1185 548" /><path d="M1100 505 L1150 495" /><path d="M1085 180 L1115 110 L1200 110 L1340 180 L1430 300 L1440 480 L1500 490 L1490 600 L1460 800 L1450 870 L1380 890 L1350 900 L1190 820" /><path d="M1140 125 L1290 180 L1380 290 L1430 470 L1420 700 L1390 880" /><path d="M1430 320 L1520 305 L1650 370" /><path d="M1450 340 C1550 380 1620 500 1620 650 C1610 720 1580 750 1470 800" /><path d="M1460 860 C1470 940 1530 1000 1650 1060" /><path d="M140 355 L260 318 L295 350 C280 390 240 410 210 410 Z M175 385 L275 355" /><path d="M90 0 L212 330" /></g></g>
<g clip-path="url(#cutA)"><g class="t" transform="translate(580,1920) scale(0.1816)" ><path d="M265 760 L340 690 L355 660 L320 620 L260 500 L190 390 L165 330 C170 280 200 250 250 235 L390 220 C480 235 560 275 640 340 C700 400 750 470 770 540 C780 600 775 680 770 720 C740 760 700 770 650 780 L635 800 L640 835 L660 860 L655 900 L640 1000 L630 1150 L620 1260" /><path d="M250 255 L380 240 C470 260 550 300 620 360 C690 420 740 500 770 580" /><path d="M385 698 L575 790" /><ellipse cx="725" cy="500" rx="25" ry="40" transform="rotate(-20 725 500)" /><path d="M485 235 L485 195 C500 160 540 130 580 110 L700 95 C850 120 960 190 1050 320 C1090 380 1130 450 1150 520 C1170 580 1150 610 1120 625 L1080 630 L1030 650 L960 660 L950 720 L960 800 L985 840 L990 870 L975 1000 L970 1110" /><path d="M580 140 L700 125 C830 150 940 230 1020 340 C1060 400 1080 460 1090 520 C1095 570 1085 600 1070 620" /><ellipse cx="1048" cy="395" rx="30" ry="40" transform="rotate(-20 1048 395)" /><path d="M700 790 L745 870 L742 930 C760 950 820 945 860 900 C880 850 880 760 850 700" /><path d="M742 930 L760 970 C800 980 870 960 920 880 C930 800 915 700 870 600 C850 560 830 530 810 520" /><path d="M740 1060 C760 1120 800 1180 850 1195 C920 1190 970 1160 1010 1110" /><path d="M1020 720 C1060 740 1100 790 1130 860 C1160 950 1160 1040 1120 1090 C1090 1110 1060 1105 1040 1095" /><path d="M1030 770 C1070 800 1110 870 1130 950 C1140 1020 1120 1070 1090 1085" /><path d="M1185 330 L1200 350 L1240 410 L1245 500 L1225 590 L1230 680 L1270 740 L1260 900 L1230 1000 L1180 1060 L1130 1100" /><path d="M1280 440 L1320 560 L1340 720 L1330 900 L1300 1010 L1250 1050 L1160 1110" /><path d="M1240 310 C1290 260 1350 250 1400 290 C1460 350 1500 450 1520 570 C1530 650 1510 720 1470 750 L1360 740" /><path d="M1290 320 C1350 310 1400 340 1440 420 C1470 500 1480 600 1460 680 C1440 720 1420 740 1380 745" /><path d="M1185 330 C1180 200 1200 100 1290 0" /><path d="M1560 30 L1600 300 L1600 600 L1550 700 L1490 760 L1650 890" /><path d="M0 610 L60 720 L75 880 L60 1100 L40 1270 L0 1285" /><path d="M60 700 L150 690 L265 755 L350 870 L380 910" /><path d="M75 730 L140 710 L250 780 L330 880 L360 1000 L360 1360" /><path d="M375 910 C450 930 530 1050 550 1200 C555 1280 520 1330 460 1340" /><path d="M390 960 C460 1000 510 1100 520 1250 C520 1300 500 1320 470 1325" /><path d="M420 1000 L420 1330 M420 1340 L600 1290 C650 1250 700 1150 740 1060" /><path d="M90 1190 L200 1140 C230 1100 245 1050 240 970 C230 850 180 760 100 730" /><path d="M130 890 L60 880" /><path d="M80 0 L80 95 L240 45 L240 0" /></g></g>
<g class="t" transform="translate(780,1870) scale(0.1816)" ><path d="M80 600 L85 430 C100 350 150 280 270 185 L345 172 L410 205 L490 250 C520 280 540 340 545 420 L560 520 L570 600 L560 800 L545 900 L480 960 L385 1030 C450 1100 550 1180 700 1220 L760 1225 L810 1200" /><path d="M460 305 L460 390 L510 610 L495 870 L480 920 L400 1020" /><path d="M410 200 L420 165 L470 105 L540 105 L600 125 L700 185" /><path d="M420 185 C470 150 540 150 580 180 C640 240 680 350 685 450 C680 510 640 530 600 530 L565 520" /><path d="M440 195 C500 170 560 180 600 230 C640 290 660 380 660 460 C650 510 620 520 590 520" /><path d="M700 185 L740 260 L760 420 L755 750 L700 800 L695 860 L760 960 L860 1080 L860 1140 L810 1200" /><path d="M720 200 L795 330 L830 420 L835 730 L780 770 L775 840 L850 930 L930 1060 L930 1100 L900 1150 L810 1200" /><path d="M720 180 L850 150 C950 150 1050 230 1120 370 C1180 500 1190 650 1170 750 C1150 810 1130 840 1100 850 L950 900 L860 915" /><path d="M800 330 C870 340 930 450 950 600 C960 720 920 770 870 790 L790 820" /><path d="M740 210 C800 200 880 250 960 350 C1020 450 1040 600 1030 750 C1010 840 970 880 940 890" /><path d="M1180 425 L1260 395 M1300 380 L1360 358 M1390 345 L1490 310" /><path d="M1140 825 L1440 1000" /><path d="M1465 0 L1495 110" /><path d="M0 610 L90 620 L140 595 L200 580" /><path d="M140 590 C200 520 260 520 300 560 C370 640 410 780 410 900 C400 990 370 1030 320 1040 L250 1030" /><path d="M150 610 C210 580 260 590 300 620 C350 700 380 830 370 940 C360 1000 340 1020 300 1025" /><path d="M90 640 L130 700 L120 860 L155 1000 L150 1100 L120 1280 L60 1377" /><path d="M140 680 L190 760 L240 1000 L220 1200 L150 1330 L80 1377" /><path d="M0 660 C40 700 65 760 65 820 C60 880 40 900 0 910" /></g>
<g class="t" transform="translate(980,1760) scale(0.09080177971488242)" ><path d="M760 1455 C640 1480 600 1600 610 1820 M670 1920 C720 2000 800 2100 900 2130" /><path d="M690 1800 C670 1650 700 1580 770 1580 C850 1590 950 1700 960 1880 C960 1980 920 2020 870 2010 C800 2000 740 1950 720 1900" /><path d="M760 1460 C860 1500 1000 1650 1030 1900 C1040 2020 1000 2090 900 2110" /><path d="M790 1440 C850 1410 950 1400 1030 1460 C1120 1550 1180 1700 1185 1850 C1190 1990 1150 2060 1000 2090" /><path d="M1210 1670 L1510 1560 M1580 1530 L1652 1510" /><path d="M580 1895 L775 1830" /></g>
<clipPath id="cutA"><path clip-rule="evenodd" d="M0 0 H2021 V2737 H0 Z M560 1990 V2150 H760 V1990 Z M540 2150 V2230 H800 V2150 Z"/></clipPath><g clip-path="url(#cutA2)"><g class="t" transform="translate(560,1990) scale(0.12106537530266344)" ><path d="M0 210 L100 250 L170 330 L240 470" /><path d="M0 240 L60 300 L150 450 L240 700 L260 740" /><path d="M0 330 L50 450 L75 600 L60 700 L0 770" /><path d="M240 740 L220 1050 L190 1300 L130 1340 L0 1280" /><path d="M330 740 L300 1050 L280 1260 L230 1320 L150 1340" /><path d="M250 750 L330 730" /><path d="M250 480 L400 465 L550 550 L700 770" /><path d="M270 510 L330 490 L480 560 L600 700 L680 900 L700 1000 L710 1487" /><path d="M280 540 C400 560 520 800 530 950 C535 1050 500 1110 450 1130 L300 1210" /><path d="M340 500 L500 600 L620 800 L700 970" /><path d="M290 1260 L310 1370 L440 1487" /><path d="M440 0 L600 250 L650 360 L700 410 L690 460 L600 510 L560 570" /><path d="M740 465 L1025 600" /><path d="M990 0 L1200 250 L1300 400 L1320 500 L1290 560 L1220 590 L1140 590 L1110 630 L1130 680 L1160 720 L1150 1000 L1110 1300 L1000 1390 L880 1440 L800 1420" /><path d="M1190 0 L1300 120 L1350 200" /><path d="M730 780 L780 790 L870 850 L950 960 L990 1100 L1000 1250 L990 1350 L950 1400 L870 1430 L810 1420" /><path d="M760 860 L860 930 L930 1050 L950 1200 L940 1330 L880 1410 L810 1420" /><path d="M790 880 L800 1420 M690 940 L740 935" /><path d="M1220 600 L1230 650 L1270 700 L1260 1060 L1290 1100 L1350 1180 L1420 1210 L1530 1190 L1600 1140 L1652 1100" /><path d="M1380 200 L1420 250 L1470 400 L1490 600 L1470 750 L1400 830 L1280 850" /><path d="M1380 210 C1460 260 1540 400 1560 550 C1565 680 1540 750 1480 850 L1380 890 L1270 880" /><path d="M1440 460 C1470 520 1490 600 1490 640" /><path d="M1600 410 L1652 400 M1590 420 L1580 600 L1610 650 L1652 680 M1620 1000 L1640 700" /><ellipse cx="1255" cy="175" rx="42" ry="60" transform="rotate(-30 1255 175)" /></g></g><clipPath id="cutA2"><rect x="560" y="1990" width="200" height="160"/></clipPath>
<clipPath id="cutB2"><rect x="540" y="2150" width="260" height="80"/></clipPath><g clip-path="url(#cutB2)"><g class="t" transform="translate(540,2100) scale(0.1452854859799506)" ><path d="M40 260 L240 370 L300 350 L340 340 L370 320 L385 250" /><path d="M20 240 L30 300 L0 330" /><path d="M380 260 L390 330 L410 410 L460 450 L600 560 L640 560 L700 545 L750 520 L790 470 L800 420" /><path d="M730 20 L735 450 L700 520 L680 545" /><path d="M790 0 L800 420 L850 455 L920 440 L980 400 L1060 340 L1130 280 L1180 180 L1190 80" /><path d="M910 100 L920 240 L910 370 L850 420" /><path d="M960 150 L975 290 L960 390 L870 440" /><path d="M1060 0 L1080 200 L1060 320" /><path d="M1190 100 L1250 180 L1320 250 L1440 240 L1500 190 L1560 130 L1652 100" /><path d="M1500 0 L1490 190" /><path d="M1550 130 L1590 160 L1652 160" /><path d="M300 350 L320 0 M380 250 L400 0" /><path d="M0 570 L140 710 L140 900 M0 680 L60 750 L60 900" /><path d="M1080 710 L1240 655 L1250 826 M1080 710 L1085 826" /><path d="M540 180 L380 255" /></g></g>
<g class="t" transform="translate(1430,1460) scale(0.23241)" ><path d="M1438.0 1726.6 L1425.6 1787.3 L1409.9 1844.9 L1391.1 1899.0 L1369.2 1949.5 L1344.3 1996.1 L1316.5 2038.5 L1286.0 2076.5 L1253.0 2109.9 L1217.5 2138.6 L1179.9 2162.5 L1140.1 2181.3 L1098.6 2195.1 L1055.4 2203.7 L1010.8 2207.1 L964.9 2205.3 L918.1 2198.3 L870.6 2186.2 L822.6 2168.9 L774.2 2146.6 L725.9 2119.4 L677.7 2087.4 L630.1 2050.8 L583.0 2009.8 L536.9 1964.5 L492.0 1915.2 L448.4 1862.2 L406.4 1805.6 L366.2 1745.9 L328.0 1683.2 L291.9 1617.8 L258.3 1550.2 L227.1 1480.7 L198.6 1409.5 L173.0 1337.0 L150.3 1263.7 L130.6 1189.8 L114.1 1115.8 L100.9 1041.9 L90.9 968.6 L84.3 896.2 L81.1 825.1 L81.3 755.7 L84.9 688.2 L91.9 623.0 L102.2 560.5 L115.8 500.9 L132.7 444.6 L152.7 391.7 L175.7 342.7 L201.7 297.7 L230.5 256.9 L262.0 220.5 L295.9 188.8 L332.2 161.9 L370.7 139.9 L411.1 123.0 L453.3 111.1 L497.1 104.4 L542.1 102.9 L588.4 106.7" /><path d="M1405.0 1806.6 L1388.5 1861.2 L1368.9 1912.3 L1346.5 1959.7 L1321.2 2003.2 L1293.2 2042.5 L1262.6 2077.6 L1229.7 2108.1 L1194.5 2134.0 L1157.2 2155.2 L1118.0 2171.4 L1077.1 2182.7 L1034.7 2189.0 L991.0 2190.3 L946.2 2186.5 L900.6 2177.7 L854.3 2163.9 L807.6 2145.2 L760.7 2121.7 L713.8 2093.5 L667.2 2060.7 L621.1 2023.4 L575.7 1982.0 L531.2 1936.5 L487.9 1887.2 L446.0 1834.4 L405.6 1778.2 L367.0 1719.0 L330.3 1657.0 L295.8 1592.6 L263.6 1526.1 L233.8 1457.8 L206.6 1388.0 L182.2 1317.0 L160.6 1245.3 L142.0 1173.1 L126.4 1100.9 L114.0 1028.9 L104.8 957.5 L98.7 887.0 L96.0 817.9 L96.5 750.5 L100.3 684.9 L107.3 621.7 L117.6 561.1 L131.0 503.4 L147.5 448.8 L167.1 397.7 L189.5 350.3 L214.8 306.8 L242.8 267.5 L273.4 232.4 L306.3 201.9 L341.5 176.0 L378.8 154.8 L418.0 138.6 L458.9 127.3 L501.3 121.0" stroke-dasharray="40 14 8 14"/><path d="M1402.0 1771.4 L1387.4 1826.8 L1369.8 1879.0 L1349.2 1927.6 L1325.8 1972.5 L1299.7 2013.3 L1271.0 2050.0 L1239.8 2082.4 L1206.4 2110.2 L1170.8 2133.4 L1133.2 2151.8 L1093.9 2165.3 L1053.0 2173.9 L1010.6 2177.6 L967.2 2176.3 L922.7 2170.0 L877.5 2158.7 L831.7 2142.6 L785.7 2121.6 L739.5 2096.0 L693.5 2065.7 L647.9 2031.1 L602.8 1992.1 L558.6 1949.1 L515.3 1902.2 L473.3 1851.7 L432.8 1797.7 L393.8 1740.7 L356.7 1680.8 L321.6 1618.3 L288.7 1553.6 L258.1 1486.9 L230.0 1418.6 L204.5 1349.0 L181.7 1278.5 L161.8 1207.4 L144.9 1136.0 L131.0 1064.7 L120.2 993.9 L112.6 923.8 L108.1 854.9 L106.9 787.4 L108.9 721.8 L114.1 658.2 L122.5 597.0 L134.0 538.6 L148.6 483.2 L166.2 431.0 L186.8 382.4 L210.2 337.5 L236.3 296.7 L265.0 260.0 L296.2 227.6 L329.6 199.8 L365.2 176.6 L402.8 158.2 L442.1 144.7 L483.0 136.1 L525.4 132.4" /><ellipse cx="768" cy="1155" rx="582" ry="1048" transform="rotate(-19 768 1155)" /><ellipse cx="774" cy="1134.7" rx="543" ry="984" transform="rotate(-18.5 774 1134.7)" /><path d="M591.0 146.4 L588.0 100.7 L601.6 102.7 L607.8 149.3 M619.1 151.5 L618.2 105.7 L631.8 108.7 L636.2 155.6 M647.6 158.7 L648.6 112.9 L662.4 116.8 L664.8 163.9 M676.3 167.8 L679.3 122.2 L693.2 127.0 L693.6 174.2 M705.2 178.9 L710.1 133.5 L724.1 139.3 L722.6 186.4 M734.2 191.9 L741.1 146.9 L755.1 153.6 L751.6 200.7 M763.3 206.9 L772.1 162.3 L786.1 169.9 L780.7 216.8 M792.3 223.7 L803.2 179.7 L817.1 188.1 L809.8 234.8 M821.4 242.5 L834.1 199.0 L848.0 208.3 L838.8 254.6 M850.3 263.1 L864.9 220.3 L878.7 230.4 L867.6 276.3 M879.1 285.4 L895.5 243.4 L909.2 254.4 L896.2 299.7 M907.6 309.5 L925.9 268.4 L939.5 280.2 L924.6 324.8 M935.9 335.3 L955.9 295.1 L969.3 307.7 L952.7 351.6 M963.8 362.7 L985.6 323.5 L998.8 336.9 L980.4 380.0 M991.3 391.8 L1014.8 353.7 L1027.8 367.8 L1007.6 409.9 M1018.4 422.3 L1043.6 385.4 L1056.3 400.2 L1034.4 441.4 M1045.0 454.4 L1071.8 418.7 L1084.3 434.1 L1060.7 474.2 M1071.0 487.8 L1099.3 453.4 L1111.5 469.5 L1086.4 508.5 M1096.5 522.5 L1126.3 489.6 L1138.1 506.3 L1111.4 544.0 M1121.2 558.6 L1152.5 527.1 L1164.0 544.3 L1135.7 580.8 M1145.3 595.8 L1177.9 565.8 L1189.1 583.6 L1159.4 618.7 M1168.6 634.2 L1202.5 605.7 L1213.3 624.1 L1182.2 657.7 M1191.1 673.5 L1226.2 646.8 L1236.6 665.6 L1204.2 697.6 M1212.7 713.9 L1249.0 688.8 L1259.0 708.0 L1225.3 738.5 M1233.5 755.1 L1270.9 731.8 L1280.4 751.4 L1245.5 780.3 M1253.3 797.2 L1291.7 775.6 L1300.8 795.6 L1264.7 822.8 M1272.2 839.9 L1311.5 820.2 L1320.1 840.5 L1283.0 865.9 M1290.0 883.3 L1330.2 865.5 L1338.3 886.0 L1300.2 909.6 M1306.8 927.3 L1347.8 911.3 L1355.3 932.1 L1316.4 953.9 M1322.5 971.7 L1364.2 957.6 L1371.2 978.6 L1331.4 998.5 M1337.1 1016.4 L1379.4 1004.4 L1385.9 1025.5 L1345.3 1043.4 M1350.6 1061.5 L1393.4 1051.4 L1399.3 1072.6 L1358.1 1088.6 M1362.9 1106.7 L1406.2 1098.6 L1411.5 1119.9 L1369.7 1133.9 M1374.0 1152.0 L1417.6 1146.0 L1422.4 1167.3 L1380.1 1179.2 M1383.9 1197.3 L1427.8 1193.3 L1431.9 1214.6 L1389.2 1224.5 M1392.5 1242.6 L1436.6 1240.6 L1440.2 1261.9 L1397.1 1269.6 M1399.9 1287.6 L1444.1 1287.7 L1447.1 1308.9 L1403.8 1314.6 M1406.1 1332.4 L1450.3 1334.6 L1452.6 1355.6 L1409.1 1359.2 M1410.9 1376.9 L1455.0 1381.1 L1456.7 1401.9 L1413.2 1403.4 M1414.5 1420.9 L1458.4 1427.1 L1459.5 1447.7 L1416.0 1447.0 M1416.8 1464.4 L1460.5 1472.6 L1460.9 1492.9 L1417.5 1490.2 M1417.7 1507.2 L1461.1 1517.5 L1460.9 1537.4 L1417.7 1532.6 M1417.4 1549.4 L1460.3 1561.6 L1459.5 1581.2 L1416.6 1574.3 M1415.8 1590.7 L1458.2 1604.9 L1456.8 1624.1 L1414.2 1615.1 M1412.9 1631.2 L1454.6 1647.3 L1452.6 1666.1 L1410.5 1655.0 M1408.6 1670.7 L1449.7 1688.7 L1447.1 1707.0 L1405.5 1693.9" /><ellipse cx="758.9" cy="1117.2" rx="278" ry="473" transform="rotate(-19.3 758.9 1117.2)" /><ellipse cx="759" cy="1111.3" rx="224" ry="396" transform="rotate(-18.3 759 1111.3)" /><ellipse cx="743.2" cy="1120.3" rx="205.6" ry="356.7" transform="rotate(-14.6 743.2 1120.3)" /><ellipse cx="742.6" cy="1128.1" rx="105.2" ry="180.8" transform="rotate(-16.4 742.6 1128.1)" /><ellipse cx="606.7" cy="905.3" rx="29" ry="44" transform="rotate(-12 606.7 905.3)" /><ellipse cx="765.5" cy="911.3" rx="29" ry="44" transform="rotate(-12 765.5 911.3)" /><ellipse cx="577.9" cy="1118.7" rx="29" ry="44" transform="rotate(-12 577.9 1118.7)" /><ellipse cx="895" cy="1139.4" rx="29" ry="44" transform="rotate(-12 895 1139.4)" /><ellipse cx="704.8" cy="1344.2" rx="29" ry="44" transform="rotate(-12 704.8 1344.2)" /><ellipse cx="863.6" cy="1355.4" rx="29" ry="44" transform="rotate(-12 863.6 1355.4)" /><path d="M700 935 L775 905" /><path d="M330 300 C360 250 400 240 420 280 C450 340 470 420 460 470 C440 500 400 490 380 460 C350 400 320 340 330 300 Z" /><ellipse cx="410" cy="360" rx="28" ry="45" transform="rotate(-12 410 360)" /><path d="M410 245 C440 300 470 380 465 450" /><path d="M200 540 C250 545 270 520 265 460 C260 420 250 400 240 390" /><path d="M430 560 C460 510 500 480 530 500 C560 530 560 580 540 620 C520 660 470 670 440 650 C410 620 410 590 430 560 Z" /><path d="M215 630 C240 600 270 610 300 650 C330 690 350 740 340 775 C320 800 290 790 270 760 C240 720 200 680 215 630 Z" /><ellipse cx="865" cy="485" rx="45" ry="112" transform="rotate(-8 865 485)" /><path d="M980 790 C1000 760 1030 770 1040 800 C1060 870 1100 930 1115 990 C1120 1030 1100 1045 1080 1035 C1040 1010 990 940 980 880 Z" /><path d="M1215 925 C1150 920 1110 860 1115 790 C1120 750 1140 720 1165 715" /><path d="M395 1200 C420 1185 440 1200 460 1240 C500 1320 530 1390 535 1430 C530 1460 500 1455 480 1430 C450 1390 420 1320 400 1260 Z" /><path d="M380 1510 C420 1500 450 1460 455 1400 C455 1340 430 1300 400 1290" /><ellipse cx="400" cy="1375" rx="28" ry="45" transform="rotate(-12 400 1375)" /><ellipse cx="632" cy="1719" rx="48" ry="107" transform="rotate(-5 632 1719)" /><path d="M945 1600 C990 1580 1060 1590 1085 1650 C1095 1700 1070 1720 1040 1730 C1000 1745 960 1760 940 1740 C920 1700 915 1640 945 1600 Z" /><path d="M1180 1490 C1210 1470 1250 1490 1280 1520 C1320 1560 1340 1620 1330 1660 C1310 1690 1280 1680 1250 1650 C1200 1610 1170 1560 1180 1490 Z" /><path d="M1075 2030 C1040 1960 1020 1880 1040 1800 C1060 1760 1100 1760 1130 1790 C1170 1840 1190 1900 1200 1960" /><ellipse cx="1130" cy="1880" rx="30" ry="50" transform="rotate(-12 1130 1880)" /><path d="M1250 1880 C1240 1810 1260 1750 1300 1745" /><path d="M890 2010 C900 1960 940 1940 970 1950 C990 1960 1000 1990 1010 2030" /><path d="M450 1650 C490 1640 530 1690 540 1780" /><path d="M470 200 C480 250 510 270 540 270 C570 265 580 240 585 210" /><path d="M85 1380 L200 1338 M240 1325 L290 1308 M325 1295 L350 1285 M380 1275 L800 1110" /></g>
<g class="t" transform="translate(1120,1600) scale(0.20581)" ><path d="M761.9 1235.1 L761.9 1235.1 L767.5 1263.8 L767.5 1263.8 L772.1 1292.6 L730.0 1295.8 L733.3 1321.8 L733.3 1321.8 L735.6 1347.9 L778.2 1350.4 L779.7 1379.2 L779.7 1379.2 L780.1 1407.8 L737.5 1399.6 L737.1 1425.1 L737.1 1425.1 L735.7 1450.4 L777.9 1464.1 L775.2 1491.7 L775.2 1491.7 L771.5 1518.8 L730.3 1499.6 L726.2 1523.5 L726.2 1523.5 L721.2 1546.8 L761.1 1571.2 L754.4 1596.3 L754.4 1596.3 L746.7 1620.7 L708.6 1591.5 L701.0 1612.6 L701.0 1612.6 L692.6 1633.0 L728.5 1666.9 L718.1 1688.5 L718.1 1688.5 L706.8 1709.1 L673.4 1671.1 L662.7 1688.6 L662.7 1688.6 L651.2 1705.2 L681.6 1747.1 L667.9 1764.3 L667.9 1764.3 L653.4 1780.2 L626.3 1735.0 L612.9 1748.2 L612.9 1748.2 L598.9 1760.2 L622.4 1808.3 L605.9 1820.2 L605.9 1820.2 L588.9 1830.8 L569.3 1780.4 L553.8 1788.6 L553.8 1788.6 L537.8 1795.5 L553.4 1847.7 L535.0 1854.0 L535.0 1854.0 L516.2 1858.8 L504.9 1805.4 L487.9 1808.3 L487.9 1808.3 L470.8 1809.8 L477.8 1863.8 L458.2 1864.1 L458.2 1864.1 L438.4 1862.8 L435.9 1808.8 L418.3 1806.2 L418.3 1806.2 L400.6 1802.3 L398.7 1855.8 L378.8 1850.0 L378.8 1850.0 L359.0 1842.8 L365.3 1790.5 L347.8 1782.6 L347.8 1782.6 L330.4 1773.4 L319.7 1824.0 L300.4 1812.5 L300.4 1812.5 L281.3 1799.6 L296.3 1751.2 L279.6 1738.3 L279.6 1738.3 L263.3 1724.3 L244.2 1769.8 L226.3 1753.0 L226.3 1753.0 L208.8 1735.0 L231.7 1692.8 L216.7 1675.5 L216.7 1675.5 L202.1 1657.2 L175.5 1695.6 L159.8 1674.3 L159.8 1674.3 L144.7 1652.0 L174.6 1617.7 L161.7 1596.8 L161.7 1596.8 L149.6 1575.0 L116.6 1604.7 L103.8 1579.8 L103.8 1579.8 L91.7 1554.1 L127.3 1529.3 L117.2 1505.6 L117.2 1505.6 L108.0 1481.3 L70.2 1500.9 L60.7 1473.5 L60.7 1473.5 L52.2 1445.7 L91.9 1431.4 L85.1 1405.9 L85.1 1405.9 L79.2 1380.2 L38.1 1388.9 L32.5 1360.2 L32.5 1360.2 L27.9 1331.4 L70.0 1328.2 L66.7 1302.2 L66.7 1302.2 L64.4 1276.1 L21.8 1273.6 L20.3 1244.8 L20.3 1244.8 L19.9 1216.2 L62.5 1224.4 L62.9 1198.9 L62.9 1198.9 L64.3 1173.6 L22.1 1159.9 L24.8 1132.3 L24.8 1132.3 L28.5 1105.2 L69.7 1124.4 L73.8 1100.5 L73.8 1100.5 L78.8 1077.2 L38.9 1052.8 L45.6 1027.7 L45.6 1027.7 L53.3 1003.3 L91.4 1032.5 L99.0 1011.4 L99.0 1011.4 L107.4 991.0 L71.5 957.1 L81.9 935.5 L81.9 935.5 L93.2 914.9 L126.6 952.9 L137.3 935.4 L137.3 935.4 L148.8 918.8 L118.4 876.9 L132.1 859.7 L132.1 859.7 L146.6 843.8 L173.7 889.0 L187.1 875.8 L187.1 875.8 L201.1 863.8 L177.6 815.7 L194.1 803.8 L194.1 803.8 L211.1 793.2 L230.7 843.6 L246.2 835.4 L246.2 835.4 L262.2 828.5 L246.6 776.3 L265.0 770.0 L265.0 770.0 L283.8 765.2 L295.1 818.6 L312.1 815.7 L312.1 815.7 L329.2 814.2 L322.2 760.2 L341.8 759.9 L341.8 759.9 L361.6 761.2 L364.1 815.2 L381.7 817.8 L381.7 817.8 L399.4 821.7 L401.3 768.2 L421.2 774.0 L421.2 774.0 L441.0 781.2 L434.7 833.5 L452.2 841.4 L452.2 841.4 L469.6 850.6 L480.3 800.0 L499.6 811.5 L499.6 811.5 L518.7 824.4 L503.7 872.8 L520.4 885.7 L520.4 885.7 L536.7 899.7 L555.8 854.2 L573.7 871.0 L573.7 871.0 L591.2 889.0 L568.3 931.2 L583.3 948.5 L583.3 948.5 L597.9 966.8 L624.5 928.4 L640.2 949.7 L640.2 949.7 L655.3 972.0 L625.4 1006.3 L638.3 1027.2 L638.3 1027.2 L650.4 1049.0 L683.4 1019.3 L696.2 1044.2 L696.2 1044.2 L708.3 1069.9 L672.7 1094.7 L682.8 1118.4 L682.8 1118.4 L692.0 1142.7 L729.8 1123.1 L739.3 1150.5 L739.3 1150.5 L747.8 1178.3 L708.1 1192.6 L714.9 1218.1 L714.9 1218.1 L720.8 1243.8 Z" /><ellipse cx="405" cy="1312" rx="308" ry="479" transform="rotate(-12 405 1312)" /><ellipse cx="417" cy="1352" rx="232" ry="405" transform="rotate(-12 417 1352)" /><path d="M110 1120 C100 1000 150 900 230 845 C260 840 270 870 255 900 C200 960 160 1040 150 1120 C140 1140 115 1140 110 1120 Z" /><path d="M210 1480 C230 1470 260 1520 290 1580 C305 1620 295 1640 280 1635 C250 1600 215 1540 205 1500 Z" /><path d="M640 1190 C660 1180 690 1190 695 1250 L710 1550 C705 1590 680 1590 675 1560 L650 1260 Z" /><path d="M430 1710 C470 1695 520 1710 530 1740 C530 1775 490 1785 450 1770 C420 1755 420 1725 430 1710 Z" /><ellipse cx="150" cy="1335" rx="20" ry="32" transform="rotate(-12 150 1335)" /><ellipse cx="368" cy="1683" rx="15" ry="20" transform="rotate(-12 368 1683)" /><ellipse cx="620" cy="1712" rx="18" ry="32" transform="rotate(-12 620 1712)" /><ellipse cx="1292" cy="977" rx="322" ry="478" transform="rotate(-15 1292 977)" /><ellipse cx="1292" cy="977" rx="298" ry="452" transform="rotate(-15 1292 977)" /><ellipse cx="1292" cy="977" rx="262" ry="392" transform="rotate(-15 1292 977)" /><ellipse cx="1292" cy="977" rx="252" ry="380" transform="rotate(-15 1292 977)" /><ellipse cx="1292" cy="977" rx="205" ry="340" transform="rotate(-15 1292 977)" /><ellipse cx="1302" cy="972" rx="270" ry="402" transform="rotate(-15 1302 972)" /><ellipse cx="968" cy="78" rx="55" ry="78" transform="rotate(-15 968 78)" /><ellipse cx="958" cy="82" rx="28" ry="45" transform="rotate(-15 958 82)" /><path d="M815 105 L930 65 M820 150 L945 110" /><path d="M835 100.0 C845 115.0 845 135.0 835 148.0" /><path d="M857 92.74 C867 107.74 867 127.74 857 140.74" /><path d="M879 85.48 C889 100.48 889 120.48 879 133.48" /><path d="M901 78.22 C911 93.22 911 113.22 901 126.22" /><path d="M923 70.96 C933 85.96 933 105.96 923 118.96" /><ellipse cx="822" cy="128" rx="14" ry="22" transform="rotate(-15 822 128)" /><path d="M810 125 L690 175 L690 460 M690 490 L690 545 M690 585 L690 880 L590 920" /><path d="M20 1455 L60 1440 M95 1428 L580 1250 M730 1195 L770 1182 M810 1168 L850 1155 M890 1140 L1375 960" /><path d="M430 985 L500 960 M1600 880 L1652 862" /><path d="M1285 1440 L1200 1895" /><path d="M135 500 L215 775" /></g>
<g class="t" transform="translate(1740,1440) scale(0.16984)" ><ellipse cx="430" cy="1197" rx="282" ry="470" transform="rotate(-14 430 1197)" /><ellipse cx="432" cy="1200" rx="150" ry="248" transform="rotate(-14 432 1200)" /><ellipse cx="268" cy="880" rx="38" ry="65" transform="rotate(-14 268 880)" /><ellipse cx="475" cy="900" rx="38" ry="65" transform="rotate(-14 475 900)" /><ellipse cx="228" cy="1175" rx="38" ry="65" transform="rotate(-14 228 1175)" /><ellipse cx="645" cy="1205" rx="38" ry="65" transform="rotate(-14 645 1205)" /><ellipse cx="398" cy="1495" rx="38" ry="65" transform="rotate(-14 398 1495)" /><ellipse cx="618" cy="1505" rx="38" ry="65" transform="rotate(-14 618 1505)" /><path d="M0 1075 L100 1045 M130 1035 L160 1025 M190 1010 L480 890" /><path d="M0 1360 L100 1330 M130 1318 L175 1302 M230 1282 L470 1190" /><path d="M590 855 L860 755" /><path d="M870 720 L1090 630 M880 775 L1110 700" /><path d="M900 699.7 C914 717.7 914 747.7 900 767.7" /><path d="M928 688.22 C942 706.22 942 736.22 928 756.22" /><path d="M956 676.74 C970 694.74 970 724.74 956 744.74" /><path d="M984 665.26 C998 683.26 998 713.26 984 733.26" /><ellipse cx="875" cy="748" rx="15" ry="30" transform="rotate(-14 875 748)" /><ellipse cx="1105" cy="668" rx="50" ry="92" transform="rotate(-14 1105 668)" /><ellipse cx="1098" cy="672" rx="25" ry="42" transform="rotate(-14 1098 672)" /><path d="M1120 590 L1170 575 C1210 580 1225 640 1210 690 L1150 710" /><path d="M1175 580 C1195 600 1200 660 1180 690" /><path d="M848 90 L1065 570" /><path d="M598 1660 L745 1965" /></g>
<g class="t" transform="translate(1167.4,2367) scale(0.09685) translate(-65,-180)"><path d="M95 185 L385 65 L615 290 L345 395 Z" /><ellipse cx="390" cy="255" rx="110" ry="62" /><path d="M70 180 L70 340 L130 410 L135 580 L125 780 L125 820 L1060 1760 L1170 1765 C1280 1740 1340 1650 1340 1560 L1340 1400" /><path d="M935 960 L1180 860 L1490 1120 L1230 1240 Z" /><ellipse cx="1190" cy="1040" rx="108" ry="60" /><path d="M1230 1240 L1225 1440 L1490 1310 L1490 1120" /><path d="M1110 1740 L1110 1380 L1135 1370 L1225 1440" /><path d="M615 290 L620 320 C630 520 720 800 920 960 L935 960" /><path d="M345 395 L345 440 C360 650 480 950 700 1120 C770 1170 850 1170 890 1120 L920 1050 L935 960" /><path d="M490 380 C500 600 600 900 880 1060" /><path d="M520 370 C535 600 640 880 900 1040" /><path d="M370 450 C400 700 520 980 780 1150" /><path d="M70 180 L95 185" /></g><g class="t" transform="translate(1282.5,2324.3) scale(0.09685) translate(-65,-180)"><path d="M95 185 L385 65 L615 290 L345 395 Z" /><ellipse cx="390" cy="255" rx="110" ry="62" /><path d="M70 180 L70 340 L130 410 L135 580 L125 780 L125 820 L1060 1760 L1170 1765 C1280 1740 1340 1650 1340 1560 L1340 1400" /><path d="M935 960 L1180 860 L1490 1120 L1230 1240 Z" /><ellipse cx="1190" cy="1040" rx="108" ry="60" /><path d="M1230 1240 L1225 1440 L1490 1310 L1490 1120" /><path d="M1110 1740 L1110 1380 L1135 1370 L1225 1440" /><path d="M615 290 L620 320 C630 520 720 800 920 960 L935 960" /><path d="M345 395 L345 440 C360 650 480 950 700 1120 C770 1170 850 1170 890 1120 L920 1050 L935 960" /><path d="M490 380 C500 600 600 900 880 1060" /><path d="M520 370 C535 600 640 880 900 1040" /><path d="M370 450 C400 700 520 980 780 1150" /><path d="M70 180 L95 185" /></g><g class="t" transform="translate(1407.6,2272) scale(0.09685) translate(-65,-180)"><path d="M95 185 L385 65 L615 290 L345 395 Z" /><ellipse cx="390" cy="255" rx="110" ry="62" /><path d="M70 180 L70 340 L130 410 L135 580 L125 780 L125 820 L1060 1760 L1170 1765 C1280 1740 1340 1650 1340 1560 L1340 1400" /><path d="M935 960 L1180 860 L1490 1120 L1230 1240 Z" /><ellipse cx="1190" cy="1040" rx="108" ry="60" /><path d="M1230 1240 L1225 1440 L1490 1310 L1490 1120" /><path d="M1110 1740 L1110 1380 L1135 1370 L1225 1440" /><path d="M615 290 L620 320 C630 520 720 800 920 960 L935 960" /><path d="M345 395 L345 440 C360 650 480 950 700 1120 C770 1170 850 1170 890 1120 L920 1050 L935 960" /><path d="M490 380 C500 600 600 900 880 1060" /><path d="M520 370 C535 600 640 880 900 1040" /><path d="M370 450 C400 700 520 980 780 1150" /><path d="M70 180 L95 185" /></g><g class="t" transform="translate(1518,2225.5) scale(0.09685) translate(-65,-180)"><path d="M95 185 L385 65 L615 290 L345 395 Z" /><ellipse cx="390" cy="255" rx="110" ry="62" /><path d="M70 180 L70 340 L130 410 L135 580 L125 780 L125 820 L1060 1760 L1170 1765 C1280 1740 1340 1650 1340 1560 L1340 1400" /><path d="M935 960 L1180 860 L1490 1120 L1230 1240 Z" /><ellipse cx="1190" cy="1040" rx="108" ry="60" /><path d="M1230 1240 L1225 1440 L1490 1310 L1490 1120" /><path d="M1110 1740 L1110 1380 L1135 1370 L1225 1440" /><path d="M615 290 L620 320 C630 520 720 800 920 960 L935 960" /><path d="M345 395 L345 440 C360 650 480 950 700 1120 C770 1170 850 1170 890 1120 L920 1050 L935 960" /><path d="M490 380 C500 600 600 900 880 1060" /><path d="M520 370 C535 600 640 880 900 1040" /><path d="M370 450 C400 700 520 980 780 1150" /><path d="M70 180 L95 185" /></g><g class="t" transform="translate(1626.5,2180.2) scale(0.09685) translate(-65,-180)"><path d="M95 185 L385 65 L615 290 L345 395 Z" /><ellipse cx="390" cy="255" rx="110" ry="62" /><path d="M70 180 L70 340 L130 410 L135 580 L125 780 L125 820 L1060 1760 L1170 1765 C1280 1740 1340 1650 1340 1560 L1340 1400" /><path d="M935 960 L1180 860 L1490 1120 L1230 1240 Z" /><ellipse cx="1190" cy="1040" rx="108" ry="60" /><path d="M1230 1240 L1225 1440 L1490 1310 L1490 1120" /><path d="M1110 1740 L1110 1380 L1135 1370 L1225 1440" /><path d="M615 290 L620 320 C630 520 720 800 920 960 L935 960" /><path d="M345 395 L345 440 C360 650 480 950 700 1120 C770 1170 850 1170 890 1120 L920 1050 L935 960" /><path d="M490 380 C500 600 600 900 880 1060" /><path d="M520 370 C535 600 640 880 900 1040" /><path d="M370 450 C400 700 520 980 780 1150" /><path d="M70 180 L95 185" /></g>
<g class="t" transform="translate(840,2350) scale(0.10282776349614396)" ><path d="M135 120 L375 45 L495 140 L250 215 Z" /><ellipse cx="320" cy="130" rx="55" ry="28" /><path d="M135 120 L135 225 L180 270 L250 520 L320 680 L400 760 L470 815 L600 815 L660 800 L700 840 L820 840 L850 800 L855 720 L885 710 L885 630 L940 610 L940 530" /><path d="M250 215 L265 300 C300 450 370 600 460 680 C520 700 570 680 585 580 L590 500 L495 140" /><path d="M590 500 L800 440 L940 530 L700 610 Z" /><ellipse cx="740" cy="525" rx="55" ry="28" /><path d="M600 520 L665 610 L680 690 L620 660 L600 760 L600 800" /><path d="M750 715 L860 715" /><path d="M735 870 L735 1090" /><path d="M665 1110 L665 1540 M810 1130 L810 1540" /><ellipse cx="737" cy="1118" rx="70" ry="28" /><path d="M690 1170 C710 1200 770 1200 790 1170" /><path d="M690 1240 C710 1270 770 1270 790 1240" /><path d="M690 1310 C710 1340 770 1340 790 1310" /><path d="M690 1380 C710 1410 770 1410 790 1380" /><path d="M690 1450 L690 1620 C700 1650 780 1650 790 1620 L790 1450" /><ellipse cx="735" cy="1600" rx="170" ry="75" /><path d="M565 1640 L610 1700 L610 1790 C660 1830 810 1830 860 1780 L860 1680" /><path d="M640 1710 L640 1790 M690 1720 L690 1800 M790 1720 L790 1800 M830 1710 L830 1780" /><path d="M610 1790 L310 2237" /></g>
<g class="t" transform="translate(1350,2370) scale(0.27240533914464726)" ><path d="M1345 310 L1345 930 M1418 310 L1418 930" /><ellipse cx="1381" cy="300" rx="37" ry="15" /><path d="M1350 330 C1365 342 1400 342 1414 330" /><path d="M1350 352 C1365 364 1400 364 1414 352" /><path d="M1350 374 C1365 386 1400 386 1414 374" /><path d="M1350 396 C1365 408 1400 408 1414 396" /><path d="M1350 418 C1365 430 1400 430 1414 418" /><path d="M1350 440 C1365 452 1400 452 1414 440" /><path d="M1350 462 C1365 474 1400 474 1414 462" /><path d="M1350 484 C1365 496 1400 496 1414 484" /><path d="M1350 506 C1365 518 1400 518 1414 506" /><path d="M1350 528 C1365 540 1400 540 1414 528" /><path d="M1350 550 C1365 562 1400 562 1414 550" /><path d="M1350 572 C1365 584 1400 584 1414 572" /><path d="M1350 594 C1365 606 1400 606 1414 594" /><path d="M1350 616 C1365 628 1400 628 1414 616" /><path d="M1350 638 C1365 650 1400 650 1414 638" /><path d="M1350 660 C1365 672 1400 672 1414 660" /><path d="M1350 682 C1365 694 1400 694 1414 682" /><path d="M1350 704 C1365 716 1400 716 1414 704" /><path d="M1345 720 L1418 720" /><ellipse cx="1383" cy="925" rx="85" ry="50" /><path d="M1345 900 C1355 940 1410 940 1418 900" /><path d="M1310 950 L1315 1010 C1340 1040 1430 1040 1452 1010 L1455 950" /><path d="M1340 970 L1340 1025 M1380 975 L1380 1030 M1425 970 L1425 1025" /><path d="M905 968 L1345 790" /></g>
<ellipse cx="657.2" cy="386.8" rx="76" ry="42.5" /><ellipse cx="770.9" cy="347.7" rx="73.7" ry="41.4" /><ellipse cx="876.2" cy="312.3" rx="73.7" ry="41.4" /><ellipse cx="981.5" cy="275.0" rx="73.7" ry="41.4" /><ellipse cx="657.2" cy="386.8" rx="74.8" ry="41.3" fill="#fff" stroke="none"/><ellipse cx="770.9" cy="347.7" rx="72.5" ry="40.2" fill="#fff" stroke="none"/><ellipse cx="876.2" cy="312.3" rx="72.5" ry="40.2" fill="#fff" stroke="none"/><ellipse cx="981.5" cy="275.0" rx="72.5" ry="40.2" fill="#fff" stroke="none"/><ellipse cx="657.2" cy="386.1" rx="66" ry="35.5" /><ellipse cx="657.2" cy="385.3" rx="59" ry="30.5" /><ellipse cx="770.9" cy="347.0" rx="63.7" ry="34.4" /><ellipse cx="770.9" cy="346.2" rx="56.7" ry="29.4" /><ellipse cx="876.2" cy="311.6" rx="63.7" ry="34.4" /><ellipse cx="876.2" cy="310.8" rx="56.7" ry="29.4" /><ellipse cx="981.5" cy="274.3" rx="63.7" ry="34.4" /><ellipse cx="981.5" cy="273.5" rx="56.7" ry="29.4" />
<g class="t" transform="translate(470,280) scale(0.1816)" ><path d="M390 365 L1100 130 L1540 0" /><path d="M80 400 L220 345 L390 365" /><path d="M80 400 L80 540 L100 570 L115 690 L110 760 L150 830 L145 1020 L80 1090 L65 1130 L80 1377" /><path d="M85 440 L150 420 L240 435 L270 480 L310 510 L400 515 L470 545 L490 570 L490 610 C500 660 520 700 580 780 L670 850 L690 870 L700 890 L790 950 L810 970 L790 990 L745 1000 L735 1040 L700 1080 L680 1120 L680 1377" /><path d="M565 340 L600 375 L890 290 L900 275" /><path d="M930 220 L950 260 L1010 295 L1050 280 L1080 260 L1190 245 L1280 190 L1450 120 L1652 85" /><path d="M1390 770 L1430 830 L1540 800 L1550 790" /><path d="M1400 880 L1390 900 L1130 1000" /><path d="M1000 1090 L1520 910 L1640 970 L1640 1110 L1652 1130" /><path d="M1000 1090 L1060 1160 L1280 1075" /><path d="M875 965 L955 915 M875 965 L930 1020 L1000 1000 L1060 1020 L1120 990 L1120 820 L1230 790" /><path d="M1000 850 L1010 1000" /><path d="M150 630 L250 690 L330 705" /><path d="M190 865 L300 835 M180 870 L180 1000 M330 835 L355 860 L360 1090 L350 1090 M270 1045 L350 1015" /><path d="M245 1060 L190 1150 L190 1280" /><path d="M395 560 L430 580 L455 960 L490 990 L540 1000 M505 995 L515 1150 L515 1180 L680 1377" /><path d="M460 1225 L610 1377" /><path d="M225 1210 L280 1240 L330 1280 L360 1377" /><path d="M710 1140 L720 1250 L760 1280" /><path d="M840 1105 L940 1240 L980 1377" /><path d="M800 1140 L820 1180 L900 1377" /><path d="M1000 1090 L1100 1215 L1100 1377 M985 1265 L1090 1230" /><path d="M910 1130 L945 1120 L985 1160 L960 1175" /><path d="M1305 1085 L1290 1377" /><path d="M1380 1110 L1400 1095 L1480 1110 L1520 1170" /><path d="M1360 1160 C1350 1200 1350 1250 1360 1280" /><path d="M1540 1180 L1610 1110 L1652 1105" /><path d="M1400 1270 L1440 1340 L1500 1360 L1540 1340 L1565 1290" /><path d="M1400 520 L1470 545 L1652 545" /><path d="M1290 420 C1250 380 1250 330 1300 290" /><path d="M1400 510 C1500 520 1600 530 1652 530" /><ellipse cx="388" cy="442" rx="45" ry="18" /><ellipse cx="520" cy="452" rx="50" ry="28" /><ellipse cx="1140" cy="292" rx="50" ry="22" /><ellipse cx="790" cy="862" rx="40" ry="18" /><ellipse cx="915" cy="870" rx="45" ry="20" /><ellipse cx="1545" cy="655" rx="45" ry="20" /><ellipse cx="150" cy="755" rx="18" ry="38" /><ellipse cx="260" cy="1210" rx="20" ry="35" /><ellipse cx="750" cy="1210" rx="20" ry="35" /><ellipse cx="720" cy="1310" rx="18" ry="30" /><ellipse cx="930" cy="1300" rx="18" ry="35" /><ellipse cx="1495" cy="1280" rx="50" ry="55" /><ellipse cx="1500" cy="1285" rx="28" ry="36" /><path d="M470 470 C480 490 560 495 575 470" /></g>
<g class="t" transform="translate(740,180) scale(0.1816)" ><path d="M0 560 L540 380 M590 370 L1240 155 L1245 90 L1310 70 L1652 320" /><path d="M205 515 L220 545 L290 585 L330 580 L380 550 L500 500 L720 460 L750 440 L780 410 L840 390 L835 405" /><path d="M820 315 L840 340 L890 375 L930 370 L980 330 L1060 300 L1200 275" /><path d="M0 680 L150 650 L180 620 L205 590" /><path d="M1385 820 L1420 850 L1410 870 L1150 965 L1075 930" /><path d="M1425 780 L1480 830 L1500 850 L1500 910" /><path d="M1200 745 L1652 700" /><path d="M605 1050 L630 1040 L780 1140 L880 1110 L890 1200" /><path d="M575 1075 L720 1200 L730 1260 L690 1377" /><path d="M780 990 L800 1000 L890 1090" /><path d="M990 990 L1010 985 L1100 1050 L1140 1045" /><path d="M1005 1005 L920 1200 M910 1210 L1010 1180" /><path d="M545 1125 L540 1200 L520 1300" /><path d="M520 1310 L650 1270 L660 1230 L670 1220" /><path d="M330 1377 L520 1310" /><path d="M45 1250 L165 1377" /><path d="M775 1140 L780 1200" /><path d="M840 1250 L1000 1377" /><path d="M1340 1180 C1330 1100 1380 1040 1460 1010 L1652 1200" /><path d="M1350 1190 L1570 1377" /><path d="M1165 1235 L1340 1185" /><path d="M1500 995 L1652 940" /><path d="M1040 1100 L1000 1125 L1040 1160" /><ellipse cx="258" cy="645" rx="45" ry="20" /><ellipse cx="838" cy="452" rx="45" ry="20" /><ellipse cx="1270" cy="787" rx="42" ry="20" /><ellipse cx="668" cy="990" rx="45" ry="22" /><ellipse cx="60" cy="1200" rx="45" ry="25" /><ellipse cx="1395" cy="228" rx="45" ry="28" /><ellipse cx="830" cy="1250" rx="30" ry="35" /><ellipse cx="1580" cy="1290" rx="75" ry="90" /><ellipse cx="1590" cy="1300" rx="50" ry="65" /><path d="M1350 245 C1360 275 1430 280 1445 250" /></g>
<g class="t" transform="translate(950,260) scale(0.1816)" ><path d="M640 0 L1160 355 L1165 430 L1195 445 L1195 510 L1355 665 L1360 735" /><path d="M175 740 C170 650 220 590 300 570 L520 770" /><path d="M190 750 L510 1030" /><path d="M345 800 C360 760 420 745 500 775" /><path d="M0 790 L175 745 M240 1000 L420 940 M585 880 L880 760 M530 1110 L650 1085" /><path d="M785 810 L840 920 L850 1000 L820 1050 L700 1070" /><path d="M890 1100 C880 900 950 720 1100 630" /><path d="M800 1110 L930 1100 L1000 1120 L1100 1250 L1150 1377" /><path d="M1005 540 L1110 625" /><path d="M1160 695 L1225 720 L1250 900 L1280 1377" /><path d="M1340 700 L1355 820 L1410 1340" /><path d="M640 265 L700 300 L840 290 L915 255 L920 250" /><path d="M540 265 L670 355 M540 280 L555 395" /><path d="M855 335 L965 300 L1100 385 L1100 500" /><path d="M280 330 L270 345 L345 410 L340 470 L310 480 M0 530 L260 440 L270 410 L230 380" /><path d="M340 550 L520 490 M540 490 L610 550" /><path d="M0 320 L40 305 L545 260 L560 260" /><path d="M145 1040 L140 1377 M145 1040 L190 1025 M250 1080 L240 1230 L200 1240" /><path d="M0 1060 L100 1110 M0 1130 C50 1150 90 1220 100 1300" /><path d="M675 1120 L750 1377" /><path d="M200 1235 L380 1377" /><path d="M620 1030 L800 1200" /><path d="M830 620 C870 650 880 680 840 690" /><path d="M840 1232 L765 1190 L800 1160 Z" fill="#000"/><path d="M395 875 C340 860 350 790 390 775 C420 765 470 790 520 800" /><path d="M370 880 L520 1040" /><ellipse cx="590" cy="1000" rx="75" ry="88" transform="rotate(-20 590 1000)" /><ellipse cx="605" cy="1012" rx="45" ry="55" transform="rotate(-20 605 1012)" /><ellipse cx="1160" cy="740" rx="22" ry="45" /><ellipse cx="1210" cy="1330" rx="22" ry="45" /><ellipse cx="680" cy="145" rx="40" ry="18" /><ellipse cx="650" cy="210" rx="40" ry="18" /><ellipse cx="110" cy="345" rx="45" ry="20" /></g>
<path d="M921.6 384.3 L1095 322 L1290 475 L1108 548 Z" stroke-width="4.2" stroke-dasharray="7 5" stroke-linecap="butt"/><path d="M940 390 L1090 338" stroke-width="1.2" stroke-dasharray="2 2"/>
<g class="t" transform="translate(470,500) scale(0.1816)" ><path d="M65 0 L80 150 L100 300 L130 350 L175 400 L180 460 L140 480 L130 530 L220 605 L380 555 L410 560 L520 650" /><path d="M105 140 L110 190 L160 240 L190 300 L210 450 L215 570" /><path d="M185 0 L190 50 L200 150 L235 220" /><path d="M225 0 L260 30 L310 40 L350 80 L375 140 L380 200 L365 250 L330 270 L350 310 L380 330 L460 325" /><path d="M270 160 L310 210 L330 250" /><path d="M385 340 L395 530" /><path d="M470 20 L700 280 M430 160 L720 440" /><path d="M690 80 C700 200 730 400 790 620 C830 800 890 1050 940 1377" /><path d="M730 80 C740 200 760 400 820 620 C860 800 920 1050 960 1300" /><path d="M780 230 C790 190 840 180 880 210 C950 280 1010 400 1030 530 C1040 620 1020 680 980 690 C920 680 870 620 830 520 C790 420 770 300 780 230 Z" /><path d="M880 260 C920 330 970 450 990 540 M870 240 L960 370 L990 370" /><path d="M840 0 C880 80 930 180 960 250 C990 330 1010 420 1030 520" /><path d="M980 40 L1100 0 M1060 100 L1070 160 L1085 640 M1100 0 L1105 130 L1080 160" /><path d="M1310 0 L1300 100 L1260 270 L1280 430 L1260 570 L1300 650 L1300 700 L1280 730 L1100 800 L1060 790 L1040 760 L1000 730 L930 700 L870 660 L840 660" /><path d="M1290 430 L1652 310" /><path d="M1270 590 L1330 640 L1380 660 L1450 650 L1500 620 L1530 560 L1520 490 L1480 450 L1420 450" /><path d="M1330 540 L1330 600" /><path d="M1540 460 L1600 470 L1652 430" /><path d="M1320 745 L1470 695 M1500 685 L1540 672 M1570 662 L1652 640" /><path d="M1310 860 L1652 740" /><path d="M1330 760 L1140 1240" /><path d="M1490 810 L1500 970 L1652 1100 M1520 800 L1652 1060" /><path d="M1340 1040 L1500 985 M1490 1250 L1652 1190" /><path d="M1270 1000 L1420 1200 L1440 1280 L1450 1285" /><path d="M1210 1130 L1220 1200 L1300 1250 L1380 1240 L1400 1210" /><path d="M1250 1300 L1340 1290 L1330 1377" /><path d="M1020 1060 L1135 1170" /><path d="M960 1080 C950 1150 970 1210 1015 1245" /><path d="M890 1040 L1000 1000 L1040 960 L1050 900 L1020 870 L970 845 L950 845 L920 760 L915 700" /><path d="M1060 940 L1145 985 L1175 1000 L1185 1040" /><path d="M1180 850 L1260 840" /><path d="M470 725 L640 670 M460 690 L600 625 M460 690 C455 700 460 720 470 725" /><path d="M610 600 L640 590 L665 690 L630 700" /><path d="M735 985 L800 965 M740 1050 L830 1030 M735 985 C725 1000 730 1040 740 1050" /><path d="M580 700 L620 720 L670 700 L780 720" /><path d="M690 760 L780 735" /><path d="M680 780 C660 830 690 890 740 900 L770 890 L775 880 L810 880 L810 960" /><path d="M900 1040 L890 1080 L930 1377" /><path d="M1100 1290 L1080 1377 M1130 1300 L1150 1377" /><ellipse cx="150" cy="310" rx="22" ry="45" transform="rotate(-15 150 310)" /><ellipse cx="350" cy="285" rx="20" ry="30" transform="rotate(-15 350 285)" /><ellipse cx="710" cy="95" rx="22" ry="32" transform="rotate(-15 710 95)" /><ellipse cx="935" cy="90" rx="22" ry="35" transform="rotate(-15 935 90)" /><ellipse cx="1500" cy="70" rx="45" ry="60" transform="rotate(-15 1500 70)" /><ellipse cx="1490" cy="75" rx="25" ry="38" transform="rotate(-15 1490 75)" /><ellipse cx="1440" cy="550" rx="50" ry="75" transform="rotate(-15 1440 550)" /><ellipse cx="1215" cy="920" rx="25" ry="45" transform="rotate(-15 1215 920)" /><ellipse cx="885" cy="970" rx="20" ry="35" transform="rotate(-15 885 970)" /><ellipse cx="1340" cy="1195" rx="45" ry="28" transform="rotate(-15 1340 1195)" /><ellipse cx="1075" cy="745" rx="22" ry="35" transform="rotate(-15 1075 745)" /><ellipse cx="710" cy="830" rx="30" ry="50" transform="rotate(-15 710 830)" /><ellipse cx="830" cy="600" rx="15" ry="30" transform="rotate(-15 830 600)" /><ellipse cx="700" cy="530" rx="50" ry="85" transform="rotate(-15 700 530)" /><ellipse cx="715" cy="560" rx="30" ry="55" transform="rotate(-15 715 560)" /></g>
<g class="t" transform="translate(740,400) scale(0.1816)" ><path d="M40 50 L200 210 L650 60 L670 0 M515 90 L530 0" /><path d="M0 170 L60 150 L65 130" /><path d="M0 250 L150 300 L270 260 L280 250 L250 230" /><path d="M150 300 L140 450 L190 470 L230 450 L270 380 L285 270" /><path d="M0 520 L120 455 L230 455 M230 455 L230 575" /><path d="M260 570 L270 520 L360 490 L460 440 L520 390 L530 360 L520 260 L560 200 L640 190 L740 260 L760 290 L870 275 L960 290 L1000 340 L1020 400 L1050 395 L1120 330 L1150 325" /><path d="M480 460 L520 540 L525 620" /><path d="M755 420 C790 350 870 350 900 430 C920 500 880 560 810 550" /><path d="M615 230 L620 415" /><path d="M0 920 L560 720" /><path d="M360 800 L440 880 L500 910 L560 890 L600 850 L615 780" /><path d="M540 820 L950 1200 M975 1225 L1010 1255 M1035 1280 L1140 1377" /><path d="M730 790 L780 1000 L840 1300" /><path d="M860 810 L940 1170" /><path d="M1160 600 L1150 920" /><path d="M780 100 L790 170 L1010 330" /><path d="M830 30 L1211 341" /><path d="M1130 220 L1250 340" /><path d="M1300 270 L1340 255 M1300 270 L1300 900 L1340 1040" /><path d="M1340 480 L1420 930 L1440 960 L1500 990 L1560 970 L1600 900 L1652 910" /><path d="M1390 260 L1410 440 L1390 460" /><path d="M1040 1010 L1100 1000 L1180 1080 L1190 1200 L1210 1215 L1652 1130" /><path d="M1010 1040 C990 1100 1000 1180 1080 1220" /><path d="M1190 1100 L1340 1030 L1380 970" /><path d="M950 1165 L1080 1215" /><path d="M1130 1300 L1220 1250 L1652 1200" /><path d="M880 1377 L1060 1330" /><path d="M0 1340 L220 1285" /><path d="M0 960 L50 1040 L60 1100 L30 1140" /><path d="M80 1210 L430 1075 L290 1377" /><path d="M1500 0 C1490 80 1530 130 1600 170 L1400 230" /><path d="M990 600 L1000 580 L1060 575 L1100 600 L1140 590" /><ellipse cx="780" cy="535" rx="205" ry="240" transform="rotate(35 780 535)" /><ellipse cx="778" cy="532" rx="190" ry="225" transform="rotate(35 778 532)" /><ellipse cx="775" cy="530" rx="175" ry="205" transform="rotate(35 775 530)" /><ellipse cx="680" cy="310" rx="35" ry="38" /><ellipse cx="670" cy="310" rx="55" ry="62" /><ellipse cx="885" cy="745" rx="33" ry="38" /><ellipse cx="888" cy="748" rx="52" ry="58" /><ellipse cx="1150" cy="465" rx="75" ry="100" transform="rotate(30 1150 465)" /><ellipse cx="1165" cy="470" rx="98" ry="125" transform="rotate(30 1165 470)" /><ellipse cx="215" cy="380" rx="25" ry="38" /><ellipse cx="530" cy="830" rx="38" ry="45" /><ellipse cx="1520" cy="935" rx="40" ry="22" /><ellipse cx="215" cy="1000" rx="42" ry="52" /><ellipse cx="10" cy="600" rx="60" ry="70" /><ellipse cx="285" cy="1240" rx="42" ry="50" /></g>
<g class="t" transform="translate(960,400) scale(0.15133)" ><path d="M1560 60 L1620 700 M1580 800 L1500 1370 M1410 0 L1470 740 M1440 840 L1340 1420 L1490 1370" /><path d="M1000 400 C1000 200 1050 100 1090 0" /><path d="M890 410 L1000 405 L1060 390 L1120 410 L1200 480 L1270 580 L1320 700 L1330 820 L1330 930 L1300 1000 L1230 1040 L1150 1020 L1100 1000" /><path d="M975 830 L1090 890 M1165 950 L1240 990 L1290 980" /><path d="M900 565 L915 630" /><path d="M1100 1020 L1140 1160 L1250 1370 L1340 1420" /><path d="M640 120 L960 0" /><path d="M880 40 L940 160 L950 250 L920 320 L790 355" /><path d="M570 405 L720 375 M230 275 L420 210" /><path d="M740 420 L860 820" /><path d="M110 330 L160 300 M110 330 L110 1080 L170 1250" /><path d="M150 590 L270 1130 L330 1180 L420 1190 L460 1160 L470 1215" /><path d="M415 1080 L450 1110" /><path d="M240 380 L240 540 L210 550" /><path d="M170 1190 L220 1150" /><path d="M0 1320 L110 1250 L170 1250" /><path d="M0 1440 L590 1340 L630 1310 L780 1320 L1000 1280" /><path d="M0 1500 L1080 1350 M1160 1330 L1210 1325 M1080 1265 L1150 1255" /><path d="M560 1100 L720 1045 M760 995 L840 945" /><path d="M540 1090 L780 1320" /><path d="M930 1140 L990 1110 L1150 1210" /><path d="M0 430 L700 1000 M740 1030 L1250 1430 M1300 1470 L1400 1570" /><ellipse cx="1385" cy="680" rx="30" ry="55" transform="rotate(-10 1385 680)" /><ellipse cx="1275" cy="1215" rx="30" ry="55" transform="rotate(-10 1275 1215)" /><ellipse cx="370" cy="1120" rx="38" ry="25" transform="rotate(-10 370 1120)" /></g>
<g class="t" transform="translate(600,560) scale(0.21792)" ><path d="M180 890 L240 945 L290 935 L380 900 L420 930 L480 920 L510 880 L570 870 L620 840 L1060 670 L1090 650 L1100 610 L1230 460 L1260 460 L1400 450 L1530 410 L1652 350" /><path d="M1090 570 L1230 410 L1400 400 L1500 380 L1570 340" /><path d="M0 0 L100 400 L170 700 L180 880 M40 0 L130 400 L200 800" /><path d="M470 0 L480 90 L460 190 L490 240 L490 310 L450 340 L300 400 L280 395 L260 360 L200 330 L160 300 L100 270 L0 330" /><path d="M480 90 L760 0" /><path d="M630 50 L690 100 L740 100 L770 140 L820 150 L860 110 L880 70 L860 30" /><path d="M455 200 L520 260 L570 275 L630 260 L670 220 L680 150 L650 100 L600 95" /><path d="M520 175 L510 230" /><path d="M510 350 L620 307 M650 296 L680 284 M710 272 L1000 160 L880 400" /><path d="M510 350 L400 620 M380 680 L340 770 M320 820 L220 1101" /><path d="M500 440 L780 340 L820 350" /><path d="M640 390 L655 540 M680 400 L820 660 M520 595 L655 545 L790 665" /><path d="M460 555 L575 715 L590 790 L610 795" /><path d="M640 765 L820 700 M840 690 L1000 625" /><path d="M760 495 L800 490 L860 510 L900 520 L970 590" /><path d="M1000 450 L1070 530 L1090 580" /><path d="M990 410 L1120 395" /><path d="M830 165 L850 190 M965 300 L990 330 L990 380 M830 295 L820 330" /><path d="M10 545 L90 520 M20 600 L100 580 M10 545 C0 560 5 590 20 600" /><path d="M150 590 L260 560 L280 510 L250 450 L220 430 L190 430" /><path d="M280 510 L360 550 L390 560" /><path d="M210 620 L200 700 L250 760 M260 610 L350 700" /><path d="M410 660 L420 700 L470 760 L530 770 L570 750 L580 720" /><path d="M1000 0 L1020 10 L1070 20 L1120 0" /><path d="M1170 0 L1260 90 M1290 120 L1440 260 M1470 290 L1652 450" /><path d="M1270 0 L1290 110 L1340 350 M1380 0 L1420 200 L1440 240" /><path d="M1480 120 L1540 100 L1600 130 L1640 180 L1652 250 M1480 120 L1475 180 L1480 235 L1540 250 L1570 265" /><path d="M160 240 L170 350 L200 430" /><path d="M240 850 L270 900 M200 860 L260 870" /><ellipse cx="820" cy="95" rx="45" ry="55" transform="rotate(-20 820 95)" /><ellipse cx="820" cy="95" rx="28" ry="38" transform="rotate(-20 820 95)" /><ellipse cx="600" cy="185" rx="35" ry="40" transform="rotate(-20 600 185)" /><ellipse cx="880" cy="305" rx="35" ry="45" transform="rotate(-20 880 305)" /><ellipse cx="880" cy="305" rx="22" ry="30" transform="rotate(-20 880 305)" /><ellipse cx="905" cy="410" rx="50" ry="45" transform="rotate(-20 905 410)" /><ellipse cx="1020" cy="530" rx="28" ry="18" transform="rotate(-20 1020 530)" /><ellipse cx="520" cy="720" rx="30" ry="20" transform="rotate(-20 520 720)" /><ellipse cx="465" cy="860" rx="40" ry="50" transform="rotate(-20 465 860)" /><ellipse cx="465" cy="860" rx="25" ry="35" transform="rotate(-20 465 860)" /><ellipse cx="410" cy="480" rx="30" ry="45" transform="rotate(-20 410 480)" /><ellipse cx="140" cy="530" rx="18" ry="30" transform="rotate(-20 140 530)" /><ellipse cx="300" cy="345" rx="15" ry="30" transform="rotate(-20 300 345)" /></g>
<g class="t" transform="translate(600,0) scale(0.30266)" ><path d="M215 275 L225 245 L260 232 L300 255 L320 275 L300 300 L265 320 L230 310 Z" /><path d="M240 250 L250 290 L290 300" /><path d="M205 290 C200 330 250 345 290 320" /><path d="M270 305 L340 365 M305 290 L362 345" /><path d="M350 360 L800 815" /><path d="M325 440 L345 405 L390 400 L530 590 L510 625 L470 625 L330 470 Z" /><path d="M365 520 L395 420 L425 405 L455 420 L440 450 L420 540 L380 545 Z" /><path d="M180 580 L565 690" /><path d="M870 590 L1010 550 M1040 542 L1100 525 M1130 517 L1370 450" /><path d="M870 590 L1050 730" /><path d="M1370 450 L1480 530 M1510 552 L1652 655" /><ellipse cx="290" cy="320" rx="12" ry="18" transform="rotate(-40 290 320)" /><ellipse cx="305" cy="330" rx="12" ry="18" transform="rotate(-40 305 330)" /><ellipse cx="320" cy="342" rx="12" ry="18" transform="rotate(-40 320 342)" /><ellipse cx="335" cy="352" rx="12" ry="18" transform="rotate(-40 335 352)" /><ellipse cx="445" cy="545" rx="20" ry="28" transform="rotate(-40 445 545)" /><ellipse cx="470" cy="570" rx="20" ry="28" transform="rotate(-40 470 570)" /><ellipse cx="495" cy="595" rx="20" ry="28" transform="rotate(-40 495 595)" /><ellipse cx="515" cy="612" rx="20" ry="28" transform="rotate(-40 515 612)" /><ellipse cx="600" cy="702" rx="33" ry="42" transform="rotate(25 600 702)" /></g><g class="t" transform="translate(0,0) scale(0.5)" ><ellipse cx="1188" cy="462" rx="26" ry="20" transform="rotate(-30 1188 462)" /><ellipse cx="1205" cy="485" rx="20" ry="20" /><path d="M1170 452 L1180 480 M1185 447 L1195 475 M1200 445 L1210 470" /><path d="M1215 495 L1340 605" /></g><g class="t" transform="translate(1195,0) scale(0.5)" ><path d="M340 380 L335 440 L345 550 L355 600 L280 580 L270 600 L275 610 L260 640 L265 665 L300 670 L350 650 L355 620 L360 570 L400 560 L410 540 L430 450 L390 410 L400 380 L440 340 L455 310 L505 320 L515 290 L505 270 L490 268 L470 295 L440 290 L415 285 L395 300 L370 320 L345 360 Z" /><path d="M385 340 L435 330 L440 300 M360 560 L395 550 L410 470 M300 600 L350 590" /><path d="M330 175 L345 160 L370 158 L385 175 L380 200 L360 212 L338 205 Z" /><path d="M375 190 L415 225 M365 205 L405 238" /><path d="M415 225 L500 285" /><ellipse cx="305" cy="640" rx="10" ry="8" /><ellipse cx="500" cy="290" rx="12" ry="12" /><ellipse cx="498" cy="288" rx="24" ry="22" /><ellipse cx="382" cy="200.0" rx="6" ry="11" transform="rotate(-40 382 200.0)" /><ellipse cx="391" cy="207.2" rx="6" ry="11" transform="rotate(-40 391 207.2)" /><ellipse cx="400" cy="214.4" rx="6" ry="11" transform="rotate(-40 400 214.4)" /><ellipse cx="409" cy="221.6" rx="6" ry="11" transform="rotate(-40 409 221.6)" /></g><path d="M918 221 L863 179 L1015 137 L1347 382 L1635 291 L1441 144" stroke-width="2" stroke-dasharray="40 8 6 8"/><g class="t" transform="translate(150,400) scale(0.33293)" ><ellipse cx="690" cy="290" rx="88" ry="62" transform="rotate(-35 690 290)" /><ellipse cx="700" cy="295" rx="58" ry="36" transform="rotate(-35 700 295)" /><path d="M610 370 L600 410 M660 350 L640 420" /><ellipse cx="630" cy="415" rx="55" ry="30" transform="rotate(-25 630 415)" /><ellipse cx="625" cy="455" rx="48" ry="25" transform="rotate(-25 625 455)" /><ellipse cx="610" cy="490" rx="40" ry="22" transform="rotate(-25 610 490)" /><ellipse cx="600" cy="515" rx="35" ry="20" transform="rotate(-25 600 515)" /><path d="M575 530 L480 780 L460 800 L440 900 L225 1365 M605 535 L505 770 L470 810 L470 900 L248 1372" /><ellipse cx="232" cy="1375" rx="14" ry="22" transform="rotate(25 232 1375)" /><path d="M490 735 L540 745 M495 725 L545 735" /><path d="M455 800 L445 830 L470 835 M430 905 L460 915" /><path d="M300 1160 L330 1170" /></g><g class="t" transform="translate(0,780) scale(0.3632)" ><ellipse cx="1295" cy="140" rx="38" ry="30" transform="rotate(-20 1295 140)" /><path d="M1258 125 L1150 320 L1125 400 L1112 500 L1090 600 L1050 760 L980 990 L965 1060" /><path d="M1330 160 L1210 350 L1190 400 L1180 500 L1160 620 L1060 980 L1030 1040" /><ellipse cx="1145" cy="505" rx="42" ry="12" transform="rotate(-10 1145 505)" /><ellipse cx="1145" cy="530" rx="42" ry="12" transform="rotate(-10 1145 530)" /><ellipse cx="1145" cy="580" rx="42" ry="12" transform="rotate(-10 1145 580)" /><ellipse cx="1145" cy="605" rx="42" ry="12" transform="rotate(-10 1145 605)" /><ellipse cx="1010" cy="1005" rx="40" ry="12" transform="rotate(-10 1010 1005)" /><ellipse cx="1000" cy="1030" rx="38" ry="11" transform="rotate(-10 1000 1030)" /><path d="M965 1060 C980 1075 1020 1080 1030 1040" /><ellipse cx="970" cy="1115" rx="35" ry="25" /><path d="M615 225 L590 280 M580 300 L560 345 L850 232 M880 220 L1160 110 M1190 98 L1350 30 L1295 140" /><path d="M960 1160 L915 1295 L1100 1210 M1130 1196 L1385 1080 L1440 935 M1455 895 L1560 620 M1575 580 L1652 380" /></g><g class="t" transform="translate(1000,520) scale(0.25)" ><path d="M800 690 C760 670 735 620 745 570 C760 520 810 490 860 492 L880 495 L930 545" /><path d="M920 500 L1030 490 L1045 520 L1050 615 L950 630 M935 540 L1040 530 M920 500 L940 545" /><path d="M1020 780 L1130 870 M1050 745 L1160 830" /><path d="M930 680 L1030 770" /><path d="M0 0 L260 180 M290 200 L420 290 M450 310 L560 385 M590 405 L760 530" /><ellipse cx="870" cy="625" rx="62" ry="90" transform="rotate(35 870 625)" /><ellipse cx="890" cy="645" rx="40" ry="48" transform="rotate(35 890 645)" /><ellipse cx="885" cy="645" rx="15" ry="20" transform="rotate(35 885 645)" /><ellipse cx="1200" cy="890" rx="58" ry="70" transform="rotate(30 1200 890)" /><ellipse cx="1210" cy="885" rx="42" ry="52" transform="rotate(30 1210 885)" /><ellipse cx="1048" cy="772.0" rx="7" ry="18" transform="rotate(38.7 1048 772.0)" /><ellipse cx="1072" cy="791.5" rx="7" ry="18" transform="rotate(38.7 1072 791.5)" /><ellipse cx="1096" cy="811.0" rx="7" ry="18" transform="rotate(38.7 1096 811.0)" /><ellipse cx="1120" cy="830.5" rx="7" ry="18" transform="rotate(38.7 1120 830.5)" /><ellipse cx="1144" cy="850.0" rx="7" ry="18" transform="rotate(38.7 1144 850.0)" /><path d="M1022 790 C1010 775 1040 740 1053 744" /></g>
<g class="t" transform="translate(1030,720) scale(0.04842615012106538)" ><path d="M220 350 L320 230 L430 230 L470 270 L560 230 L800 215 L1050 450 L1060 500 L1220 680 L1240 760 L1240 900 L1390 1020 L1380 1170 L1340 1230 L1330 1310 L1180 1380 L1090 1390 L900 1250 L780 1270 L620 1180 L470 1100 L240 880 L210 750 L220 600 L270 510 L220 450 Z" fill="#000"/><path d="M270 380 L380 290 L420 320 L300 430 Z" fill="#fff" stroke="none"/><path d="M290 590 L380 690 L640 400 L540 310 L350 490 Z" fill="#fff" stroke="none"/><path d="M620 270 L760 265 L840 340 L720 370 Z" fill="#fff" stroke="none"/><path d="M270 720 L350 800 L345 910 L270 830 Z" fill="#fff" stroke="none"/><path d="M480 870 C500 700 650 530 800 480 L880 470 L1070 610 L960 650 L860 700 L740 830 L670 960 L660 1110 L500 1000 Z" fill="#fff" stroke="none"/><path d="M810 1000 C830 880 950 790 1060 780 L1100 780 L1100 860 L1320 1040 L1160 1150 L1060 1270 Z" fill="#fff" stroke="none"/><path d="M1150 1230 L1300 1140 L1310 1180 L1280 1240 L1140 1330 Z" fill="#fff" stroke="none"/><path d="M1350 1300 L1652 1480" /></g>
<path d="M1295 162.5 L1362.5 189" /><path d="M615 114 L700 132" /><path d="M655 176 L774 207.5" /><path d="M487.5 256 L580 237.5" /><path d="M367 410 L487 385" /><path d="M216.7 703.3 L281.7 721.7" /><path d="M311.6 1029.9 L381.4 1056" /><path d="M228.8 1183 L339.6 1183" /><path d="M1322.5 590 L1262.5 650" /><path d="M1172.5 827.5 L1095 787.5" /><path d="M1413 687.5 L1313.75 731.25" /><path d="M773.4 61.4 L696.9 80.2" /><path d="M1451 62.5 L1392.5 89" /><path d="M717 1279.7 L810 1289.8" /><path d="M772.5 1461.6 L856 1470.3" /><path d="M777.5 1611 L837.5 1662.5" /><path d="M980 1625 L934 1750" /><path d="M678.5 1727.5 L662.5 1845" /><path d="M678.5 1727.5 L742.5 1800" /><path d="M328 1946 L347 1992" /><path d="M785 2432.5 L867.5 2407.5" /><path d="M980 2264 L892.5 2287.5" /><path d="M1090 2145 L970 2175" /><path d="M1035 1832.5 L1051 1892.5" /><path d="M1660 1399.7 L1624 1497" /><path d="M1745 2330 L1790 2350" /><path d="M1253.3 1469.4 L1314.6 1603.2" /><path d="M837 2631 L872 2580" />
<path d="M840 551 L1045 735" stroke-dasharray="40 8 6 8"/><path d="M600 918 L648 800" stroke-dasharray="40 8 6 8"/>
</g>
<g><text x="25" y="51" textLength="414" lengthAdjust="spacingAndGlyphs" font-family="Liberation Sans" font-weight="bold" font-size="39">SEC. 110•120•220•226</text>
<circle cx="1276" cy="150" r="19.7" fill="#fff" stroke="#000" stroke-width="3.7"/><rect x="1275.1" y="136.2" width="3.4" height="28.7" fill="#000"/><path d="M1275.4 136.2 L1275.4 142.7 L1270.6 145.0 L1270.6 141.2 Z" fill="#000"/>
<circle cx="594" cy="105" r="19.7" fill="#fff" stroke="#000" stroke-width="3.7"/><text x="0" y="0" transform="translate(594.0,119.9) scale(0.8,0.976)" text-anchor="middle" font-family="Liberation Sans" font-weight="bold" font-size="41" fill="#000" stroke="#000" stroke-width="1.1">2</text>
<circle cx="513.5" cy="175" r="19.7" fill="#fff" stroke="#000" stroke-width="3.7"/><text x="0" y="0" transform="translate(513.5,189.8) scale(0.8,0.976)" text-anchor="middle" font-family="Liberation Sans" font-weight="bold" font-size="41" fill="#000" stroke="#000" stroke-width="1.1">3</text>
<circle cx="151.5" cy="258.8" r="19.7" fill="#fff" stroke="#000" stroke-width="3.7"/><text x="0" y="0" transform="translate(151.5,273.7) scale(0.8,0.976)" text-anchor="middle" font-family="Liberation Sans" font-weight="bold" font-size="41" fill="#000" stroke="#000" stroke-width="1.1">4</text>
<circle cx="286" cy="412" r="19.7" fill="#fff" stroke="#000" stroke-width="3.7"/><text x="0" y="0" transform="translate(286.0,426.8) scale(0.8,0.976)" text-anchor="middle" font-family="Liberation Sans" font-weight="bold" font-size="41" fill="#000" stroke="#000" stroke-width="1.1">5</text>
<circle cx="195" cy="697" r="19.7" fill="#fff" stroke="#000" stroke-width="3.7"/><text x="0" y="0" transform="translate(195.0,711.9) scale(0.8,0.976)" text-anchor="middle" font-family="Liberation Sans" font-weight="bold" font-size="41" fill="#000" stroke="#000" stroke-width="1.1">6</text>
<circle cx="292.4" cy="1019.7" r="19.7" fill="#fff" stroke="#000" stroke-width="3.7"/><text x="0" y="0" transform="translate(292.4,1034.5) scale(0.8,0.976)" text-anchor="middle" font-family="Liberation Sans" font-weight="bold" font-size="41" fill="#000" stroke="#000" stroke-width="1.1">7</text>
<circle cx="85.4" cy="1185" r="19.7" fill="#fff" stroke="#000" stroke-width="3.7"/><text x="0" y="0" transform="translate(85.4,1199.9) scale(0.8,0.976)" text-anchor="middle" font-family="Liberation Sans" font-weight="bold" font-size="41" fill="#000" stroke="#000" stroke-width="1.1">8</text>
<circle cx="1335.5" cy="573.75" r="19.7" fill="#fff" stroke="#000" stroke-width="3.7"/><text x="0" y="0" transform="translate(1335.5,588.6) scale(0.8,0.976)" text-anchor="middle" font-family="Liberation Sans" font-weight="bold" font-size="41" fill="#000" stroke="#000" stroke-width="1.1">9</text>
<circle cx="1192" cy="834.6" r="19.7" fill="#fff" stroke="#000" stroke-width="3.7"/><rect x="1185.8" y="820.8" width="2.9" height="28.7" fill="#000"/><path d="M1186.0 820.8 L1186.0 827.2 L1181.2 829.5 L1181.2 825.8 Z" fill="#000"/><text x="0" y="0" transform="translate(1197.6,849.5) scale(0.5,0.976)" text-anchor="middle" font-family="Liberation Sans" font-weight="bold" font-size="41" fill="#000" stroke="#000" stroke-width="1.1">0</text>
<circle cx="1047.5" cy="879.4" r="19.7" fill="#fff" stroke="#000" stroke-width="3.7"/><rect x="1041.2" y="865.5" width="2.9" height="28.7" fill="#000"/><path d="M1041.5 865.5 L1041.5 872.0 L1036.8 874.3 L1036.8 870.5 Z" fill="#000"/><rect x="1052.4" y="865.5" width="2.9" height="28.7" fill="#000"/><path d="M1052.7 865.5 L1052.7 872.0 L1047.9 874.3 L1047.9 870.5 Z" fill="#000"/>
<circle cx="1048.3" cy="970.6" r="19.7" fill="#fff" stroke="#000" stroke-width="3.7"/><rect x="1042.0" y="956.8" width="2.9" height="28.7" fill="#000"/><path d="M1042.3 956.8 L1042.3 963.2 L1037.5 965.5 L1037.5 961.8 Z" fill="#000"/><text x="0" y="0" transform="translate(1053.9,985.5) scale(0.5,0.976)" text-anchor="middle" font-family="Liberation Sans" font-weight="bold" font-size="41" fill="#000" stroke="#000" stroke-width="1.1">2</text>
<circle cx="1085" cy="1109.6" r="19.7" fill="#fff" stroke="#000" stroke-width="3.7"/><rect x="1078.8" y="1095.8" width="2.9" height="28.7" fill="#000"/><path d="M1079.0 1095.8 L1079.0 1102.2 L1074.2 1104.5 L1074.2 1100.8 Z" fill="#000"/><text x="0" y="0" transform="translate(1090.6,1124.5) scale(0.5,0.976)" text-anchor="middle" font-family="Liberation Sans" font-weight="bold" font-size="41" fill="#000" stroke="#000" stroke-width="1.1">3</text>
<circle cx="1107.4" cy="1341.4" r="19.7" fill="#fff" stroke="#000" stroke-width="3.7"/><rect x="1101.2" y="1327.6" width="2.9" height="28.7" fill="#000"/><path d="M1101.5 1327.6 L1101.5 1334.1 L1096.7 1336.4 L1096.7 1332.6 Z" fill="#000"/><text x="0" y="0" transform="translate(1113.0,1356.3) scale(0.5,0.976)" text-anchor="middle" font-family="Liberation Sans" font-weight="bold" font-size="41" fill="#000" stroke="#000" stroke-width="1.1">4</text>
<circle cx="635.2" cy="1277.8" r="19.7" fill="#fff" stroke="#000" stroke-width="3.7"/><rect x="628.9" y="1264.0" width="2.9" height="28.7" fill="#000"/><path d="M629.2 1264.0 L629.2 1270.5 L624.4 1272.8 L624.4 1269.0 Z" fill="#000"/><text x="0" y="0" transform="translate(640.8,1292.7) scale(0.5,0.976)" text-anchor="middle" font-family="Liberation Sans" font-weight="bold" font-size="41" fill="#000" stroke="#000" stroke-width="1.1">5</text>
<circle cx="750.7" cy="1459.8" r="19.7" fill="#fff" stroke="#000" stroke-width="3.7"/><rect x="744.4" y="1446.0" width="2.9" height="28.7" fill="#000"/><path d="M744.7 1446.0 L744.7 1452.5 L739.9 1454.8 L739.9 1451.0 Z" fill="#000"/><text x="0" y="0" transform="translate(756.3,1474.7) scale(0.5,0.976)" text-anchor="middle" font-family="Liberation Sans" font-weight="bold" font-size="41" fill="#000" stroke="#000" stroke-width="1.1">6</text>
<circle cx="654" cy="1586" r="19.7" fill="#fff" stroke="#000" stroke-width="3.7"/><rect x="647.7" y="1572.2" width="2.9" height="28.7" fill="#000"/><path d="M648.0 1572.2 L648.0 1578.7 L643.2 1581.0 L643.2 1577.2 Z" fill="#000"/><text x="0" y="0" transform="translate(659.6,1600.9) scale(0.5,0.976)" text-anchor="middle" font-family="Liberation Sans" font-weight="bold" font-size="41" fill="#000" stroke="#000" stroke-width="1.1">7</text>
<circle cx="986" cy="1605" r="19.7" fill="#fff" stroke="#000" stroke-width="3.7"/><rect x="979.7" y="1591.2" width="2.9" height="28.7" fill="#000"/><path d="M980.0 1591.2 L980.0 1597.7 L975.2 1600.0 L975.2 1596.2 Z" fill="#000"/><text x="0" y="0" transform="translate(991.6,1619.9) scale(0.5,0.976)" text-anchor="middle" font-family="Liberation Sans" font-weight="bold" font-size="41" fill="#000" stroke="#000" stroke-width="1.1">8</text>
<circle cx="626.5" cy="1696.5" r="19.7" fill="#fff" stroke="#000" stroke-width="3.7"/><rect x="620.2" y="1682.7" width="2.9" height="28.7" fill="#000"/><path d="M620.5 1682.7 L620.5 1689.2 L615.7 1691.5 L615.7 1687.7 Z" fill="#000"/><text x="0" y="0" transform="translate(632.1,1711.4) scale(0.5,0.976)" text-anchor="middle" font-family="Liberation Sans" font-weight="bold" font-size="41" fill="#000" stroke="#000" stroke-width="1.1">9</text>
<circle cx="324" cy="1926" r="19.7" fill="#fff" stroke="#000" stroke-width="3.7"/><text x="0" y="0" transform="translate(318.4,1940.9) scale(0.5,0.976)" text-anchor="middle" font-family="Liberation Sans" font-weight="bold" font-size="41" fill="#000" stroke="#000" stroke-width="1.1">2</text><text x="0" y="0" transform="translate(329.6,1940.9) scale(0.5,0.976)" text-anchor="middle" font-family="Liberation Sans" font-weight="bold" font-size="41" fill="#000" stroke="#000" stroke-width="1.1">0</text>
<circle cx="824.5" cy="2649.7" r="19.7" fill="#fff" stroke="#000" stroke-width="3.7"/><text x="0" y="0" transform="translate(818.9,2664.5) scale(0.5,0.976)" text-anchor="middle" font-family="Liberation Sans" font-weight="bold" font-size="41" fill="#000" stroke="#000" stroke-width="1.1">2</text><rect x="829.4" y="2635.8" width="2.9" height="28.7" fill="#000"/><path d="M829.7 2635.8 L829.7 2642.3 L824.9 2644.7 L824.9 2640.8 Z" fill="#000"/>
<circle cx="764" cy="2437.5" r="19.7" fill="#fff" stroke="#000" stroke-width="3.7"/><text x="0" y="0" transform="translate(758.4,2452.3) scale(0.5,0.976)" text-anchor="middle" font-family="Liberation Sans" font-weight="bold" font-size="41" fill="#000" stroke="#000" stroke-width="1.1">2</text><text x="0" y="0" transform="translate(769.6,2452.3) scale(0.5,0.976)" text-anchor="middle" font-family="Liberation Sans" font-weight="bold" font-size="41" fill="#000" stroke="#000" stroke-width="1.1">2</text>
<circle cx="998.5" cy="2256.5" r="19.7" fill="#fff" stroke="#000" stroke-width="3.7"/><text x="0" y="0" transform="translate(992.9,2271.3) scale(0.5,0.976)" text-anchor="middle" font-family="Liberation Sans" font-weight="bold" font-size="41" fill="#000" stroke="#000" stroke-width="1.1">2</text><text x="0" y="0" transform="translate(1004.1,2271.3) scale(0.5,0.976)" text-anchor="middle" font-family="Liberation Sans" font-weight="bold" font-size="41" fill="#000" stroke="#000" stroke-width="1.1">3</text>
<circle cx="1111" cy="2141" r="19.7" fill="#fff" stroke="#000" stroke-width="3.7"/><text x="0" y="0" transform="translate(1105.4,2155.8) scale(0.5,0.976)" text-anchor="middle" font-family="Liberation Sans" font-weight="bold" font-size="41" fill="#000" stroke="#000" stroke-width="1.1">2</text><text x="0" y="0" transform="translate(1116.6,2155.8) scale(0.5,0.976)" text-anchor="middle" font-family="Liberation Sans" font-weight="bold" font-size="41" fill="#000" stroke="#000" stroke-width="1.1">4</text>
<circle cx="1061" cy="2066" r="19.7" fill="#fff" stroke="#000" stroke-width="3.7"/><text x="0" y="0" transform="translate(1055.4,2080.8) scale(0.5,0.976)" text-anchor="middle" font-family="Liberation Sans" font-weight="bold" font-size="41" fill="#000" stroke="#000" stroke-width="1.1">2</text><text x="0" y="0" transform="translate(1066.6,2080.8) scale(0.5,0.976)" text-anchor="middle" font-family="Liberation Sans" font-weight="bold" font-size="41" fill="#000" stroke="#000" stroke-width="1.1">5</text>
<circle cx="1028.5" cy="1811" r="19.7" fill="#fff" stroke="#000" stroke-width="3.7"/><text x="0" y="0" transform="translate(1022.9,1825.9) scale(0.5,0.976)" text-anchor="middle" font-family="Liberation Sans" font-weight="bold" font-size="41" fill="#000" stroke="#000" stroke-width="1.1">2</text><text x="0" y="0" transform="translate(1034.1,1825.9) scale(0.5,0.976)" text-anchor="middle" font-family="Liberation Sans" font-weight="bold" font-size="41" fill="#000" stroke="#000" stroke-width="1.1">6</text>
<circle cx="1753.5" cy="984" r="19.7" fill="#fff" stroke="#000" stroke-width="3.7"/><text x="0" y="0" transform="translate(1747.9,998.9) scale(0.5,0.976)" text-anchor="middle" font-family="Liberation Sans" font-weight="bold" font-size="41" fill="#000" stroke="#000" stroke-width="1.1">2</text><text x="0" y="0" transform="translate(1759.1,998.9) scale(0.5,0.976)" text-anchor="middle" font-family="Liberation Sans" font-weight="bold" font-size="41" fill="#000" stroke="#000" stroke-width="1.1">6</text>
<circle cx="1141.8" cy="1683" r="19.7" fill="#fff" stroke="#000" stroke-width="3.7"/><text x="0" y="0" transform="translate(1136.2,1697.9) scale(0.5,0.976)" text-anchor="middle" font-family="Liberation Sans" font-weight="bold" font-size="41" fill="#000" stroke="#000" stroke-width="1.1">2</text><text x="0" y="0" transform="translate(1147.4,1697.9) scale(0.5,0.976)" text-anchor="middle" font-family="Liberation Sans" font-weight="bold" font-size="41" fill="#000" stroke="#000" stroke-width="1.1">7</text>
<circle cx="1364" cy="2011" r="19.7" fill="#fff" stroke="#000" stroke-width="3.7"/><text x="0" y="0" transform="translate(1358.4,2025.9) scale(0.5,0.976)" text-anchor="middle" font-family="Liberation Sans" font-weight="bold" font-size="41" fill="#000" stroke="#000" stroke-width="1.1">2</text><text x="0" y="0" transform="translate(1369.6,2025.9) scale(0.5,0.976)" text-anchor="middle" font-family="Liberation Sans" font-weight="bold" font-size="41" fill="#000" stroke="#000" stroke-width="1.1">8</text>
<circle cx="1665.9" cy="1380.2" r="19.7" fill="#fff" stroke="#000" stroke-width="3.7"/><text x="0" y="0" transform="translate(1660.3,1395.1) scale(0.5,0.976)" text-anchor="middle" font-family="Liberation Sans" font-weight="bold" font-size="41" fill="#000" stroke="#000" stroke-width="1.1">2</text><text x="0" y="0" transform="translate(1671.5,1395.1) scale(0.5,0.976)" text-anchor="middle" font-family="Liberation Sans" font-weight="bold" font-size="41" fill="#000" stroke="#000" stroke-width="1.1">9</text>
<circle cx="1875" cy="1795.5" r="19.7" fill="#fff" stroke="#000" stroke-width="3.7"/><text x="0" y="0" transform="translate(1869.4,1810.4) scale(0.5,0.976)" text-anchor="middle" font-family="Liberation Sans" font-weight="bold" font-size="41" fill="#000" stroke="#000" stroke-width="1.1">3</text><text x="0" y="0" transform="translate(1880.6,1810.4) scale(0.5,0.976)" text-anchor="middle" font-family="Liberation Sans" font-weight="bold" font-size="41" fill="#000" stroke="#000" stroke-width="1.1">0</text>
<circle cx="1806" cy="2357.5" r="19.7" fill="#fff" stroke="#000" stroke-width="3.7"/><text x="0" y="0" transform="translate(1800.4,2372.3) scale(0.5,0.976)" text-anchor="middle" font-family="Liberation Sans" font-weight="bold" font-size="41" fill="#000" stroke="#000" stroke-width="1.1">3</text><rect x="1810.9" y="2343.7" width="2.9" height="28.7" fill="#000"/><path d="M1811.2 2343.7 L1811.2 2350.2 L1806.4 2352.5 L1806.4 2348.7 Z" fill="#000"/>
<circle cx="1400.4" cy="2641" r="19.7" fill="#fff" stroke="#000" stroke-width="3.7"/><text x="0" y="0" transform="translate(1394.8,2655.8) scale(0.5,0.976)" text-anchor="middle" font-family="Liberation Sans" font-weight="bold" font-size="41" fill="#000" stroke="#000" stroke-width="1.1">3</text><text x="0" y="0" transform="translate(1406.0,2655.8) scale(0.5,0.976)" text-anchor="middle" font-family="Liberation Sans" font-weight="bold" font-size="41" fill="#000" stroke="#000" stroke-width="1.1">2</text>
<circle cx="1089" cy="361" r="19.7" fill="#fff" stroke="#000" stroke-width="3.7"/><text x="1089" y="374.2" text-anchor="middle" font-family="Liberation Sans" font-weight="bold" font-size="36.5" fill="#000" stroke="#000" stroke-width="0.8">A</text>
<circle cx="1125" cy="505" r="19.7" fill="#fff" stroke="#000" stroke-width="3.7"/><text x="1125" y="518.2" text-anchor="middle" font-family="Liberation Sans" font-weight="bold" font-size="36.5" fill="#000" stroke="#000" stroke-width="0.8">B</text>
<circle cx="1749.9" cy="1275.4" r="19.7" fill="#fff" stroke="#000" stroke-width="3.7"/><circle cx="1749.9" cy="1275.4" r="15.3" fill="none" stroke="#000" stroke-width="1.4"/><text x="1749.9" y="1288.6000000000001" text-anchor="middle" font-family="Liberation Sans" font-weight="bold" font-size="36.5" fill="#000" stroke="#000" stroke-width="0.8">C</text>
<circle cx="993.6" cy="2649.8" r="19.7" fill="#fff" stroke="#000" stroke-width="3.7"/><circle cx="993.6" cy="2649.8" r="15.3" fill="none" stroke="#000" stroke-width="1.4"/><text x="993.6" y="2663.0" text-anchor="middle" font-family="Liberation Sans" font-weight="bold" font-size="36.5" fill="#000" stroke="#000" stroke-width="0.8">D</text>
<circle cx="1574.7" cy="2639.7" r="19.7" fill="#fff" stroke="#000" stroke-width="3.7"/><circle cx="1574.7" cy="2639.7" r="15.3" fill="none" stroke="#000" stroke-width="1.4"/><text x="1574.7" y="2652.8999999999996" text-anchor="middle" font-family="Liberation Sans" font-weight="bold" font-size="36.5" fill="#000" stroke="#000" stroke-width="0.8">D</text>
<use href="#oil" x="603" y="150" width="44" height="44"/>
<use href="#oil" x="316" y="390" width="44" height="44"/>
<use href="#oil" x="175.4" y="1164.3" width="44" height="44"/>
<use href="#oil" x="1080" y="857" width="44" height="44"/>
<use href="#oil" x="1083" y="948" width="44" height="44"/>
<use href="#oil" x="1117" y="1086" width="44" height="44"/>
<use href="#oil" x="1139.4" y="1320" width="44" height="44"/>
<use href="#oil" x="666" y="1255.3" width="44" height="44"/>
<use href="#oil" x="726" y="1564" width="44" height="44"/>
<use href="#oil" x="1054" y="1581.5" width="44" height="44"/>
<use href="#oil" x="656" y="1674" width="44" height="44"/>
<use href="#oil" x="859" y="2628" width="44" height="44"/>
<use href="#oil" x="1063" y="2232.5" width="44" height="44"/>
<use href="#oil" x="1178.5" y="2121" width="44" height="44"/>
<use href="#oil" x="1092.5" y="2045" width="44" height="44"/>
<use href="#oil" x="1437.2" y="2620" width="44" height="44"/>
<use href="#oil" x="1155" y="1417.5" width="44" height="44"/>
<use href="#oil" x="1692" y="1413.6" width="44" height="44"/>
<use href="#xc" x="541" y="147" width="52" height="52"/>
<use href="#xc" x="112.69999999999999" y="1159" width="52" height="52"/>
<use href="#xc" x="1396.5" y="1985" width="52" height="52"/>
<use href="#seal" x="182" y="237" width="44" height="44"/>
<use href="#seal" x="1224" y="811" width="44" height="44"/>
<use href="#seal" x="1465" y="1989" width="44" height="44"/>
<use href="#tqA" x="240" y="235" width="48" height="48"/>
<use href="#tqA" x="1459" y="34" width="48" height="48"/>
<use href="#tqA" x="787" y="40" width="48" height="48"/>
<use href="#tqB" x="1424" y="664" width="44" height="44"/>
<use href="#tqB" x="1283" y="811" width="44" height="44"/>
<use href="#tqB" x="917" y="2628" width="44" height="44"/>
<use href="#tqB" x="1496.3" y="2620" width="44" height="44"/>
<use href="#tqB" x="1215" y="1417.5" width="44" height="44"/>
<use href="#tqB" x="1752" y="1413.6" width="44" height="44"/>
<use href="#star" x="686.5" y="1572.5" width="27" height="27"/>
<use href="#star" x="1016.5" y="1589.0" width="27" height="27"/>
<use href="#star" x="1026.5" y="2240.5" width="27" height="27"/>
<use href="#star" x="1141.5" y="2129.0" width="27" height="27"/>
<text x="296" y="270" textLength="185" lengthAdjust="spacingAndGlyphs" font-family="Liberation Sans" font-size="30.5">9.8 (1.0, 87)</text>
<text x="837.6" y="74.2" textLength="204.89999999999998" lengthAdjust="spacingAndGlyphs" font-family="Liberation Sans" font-size="30.5">7.0 (0.71, 62)</text>
<text x="1515" y="70" textLength="204" lengthAdjust="spacingAndGlyphs" font-family="Liberation Sans" font-size="30.5">10.0 (1.0, 89)</text>
<text x="1478" y="698.7" textLength="203" lengthAdjust="spacingAndGlyphs" font-family="Liberation Sans" font-size="30.5">22.5 (2.3, 17)</text>
<text x="1337" y="844" textLength="203" lengthAdjust="spacingAndGlyphs" font-family="Liberation Sans" font-size="30.5">19.6 (2.0, 14)</text>
<text x="1267.3" y="1448" textLength="203.4000000000001" lengthAdjust="spacingAndGlyphs" font-family="Liberation Sans" font-size="30.5">22.0 (2.2, 16)</text>
<text x="1805.2" y="1444" textLength="211.79999999999995" lengthAdjust="spacingAndGlyphs" font-family="Liberation Sans" font-size="30.5">107.8 (11, 80)</text></g>
</svg>
</body></html>
